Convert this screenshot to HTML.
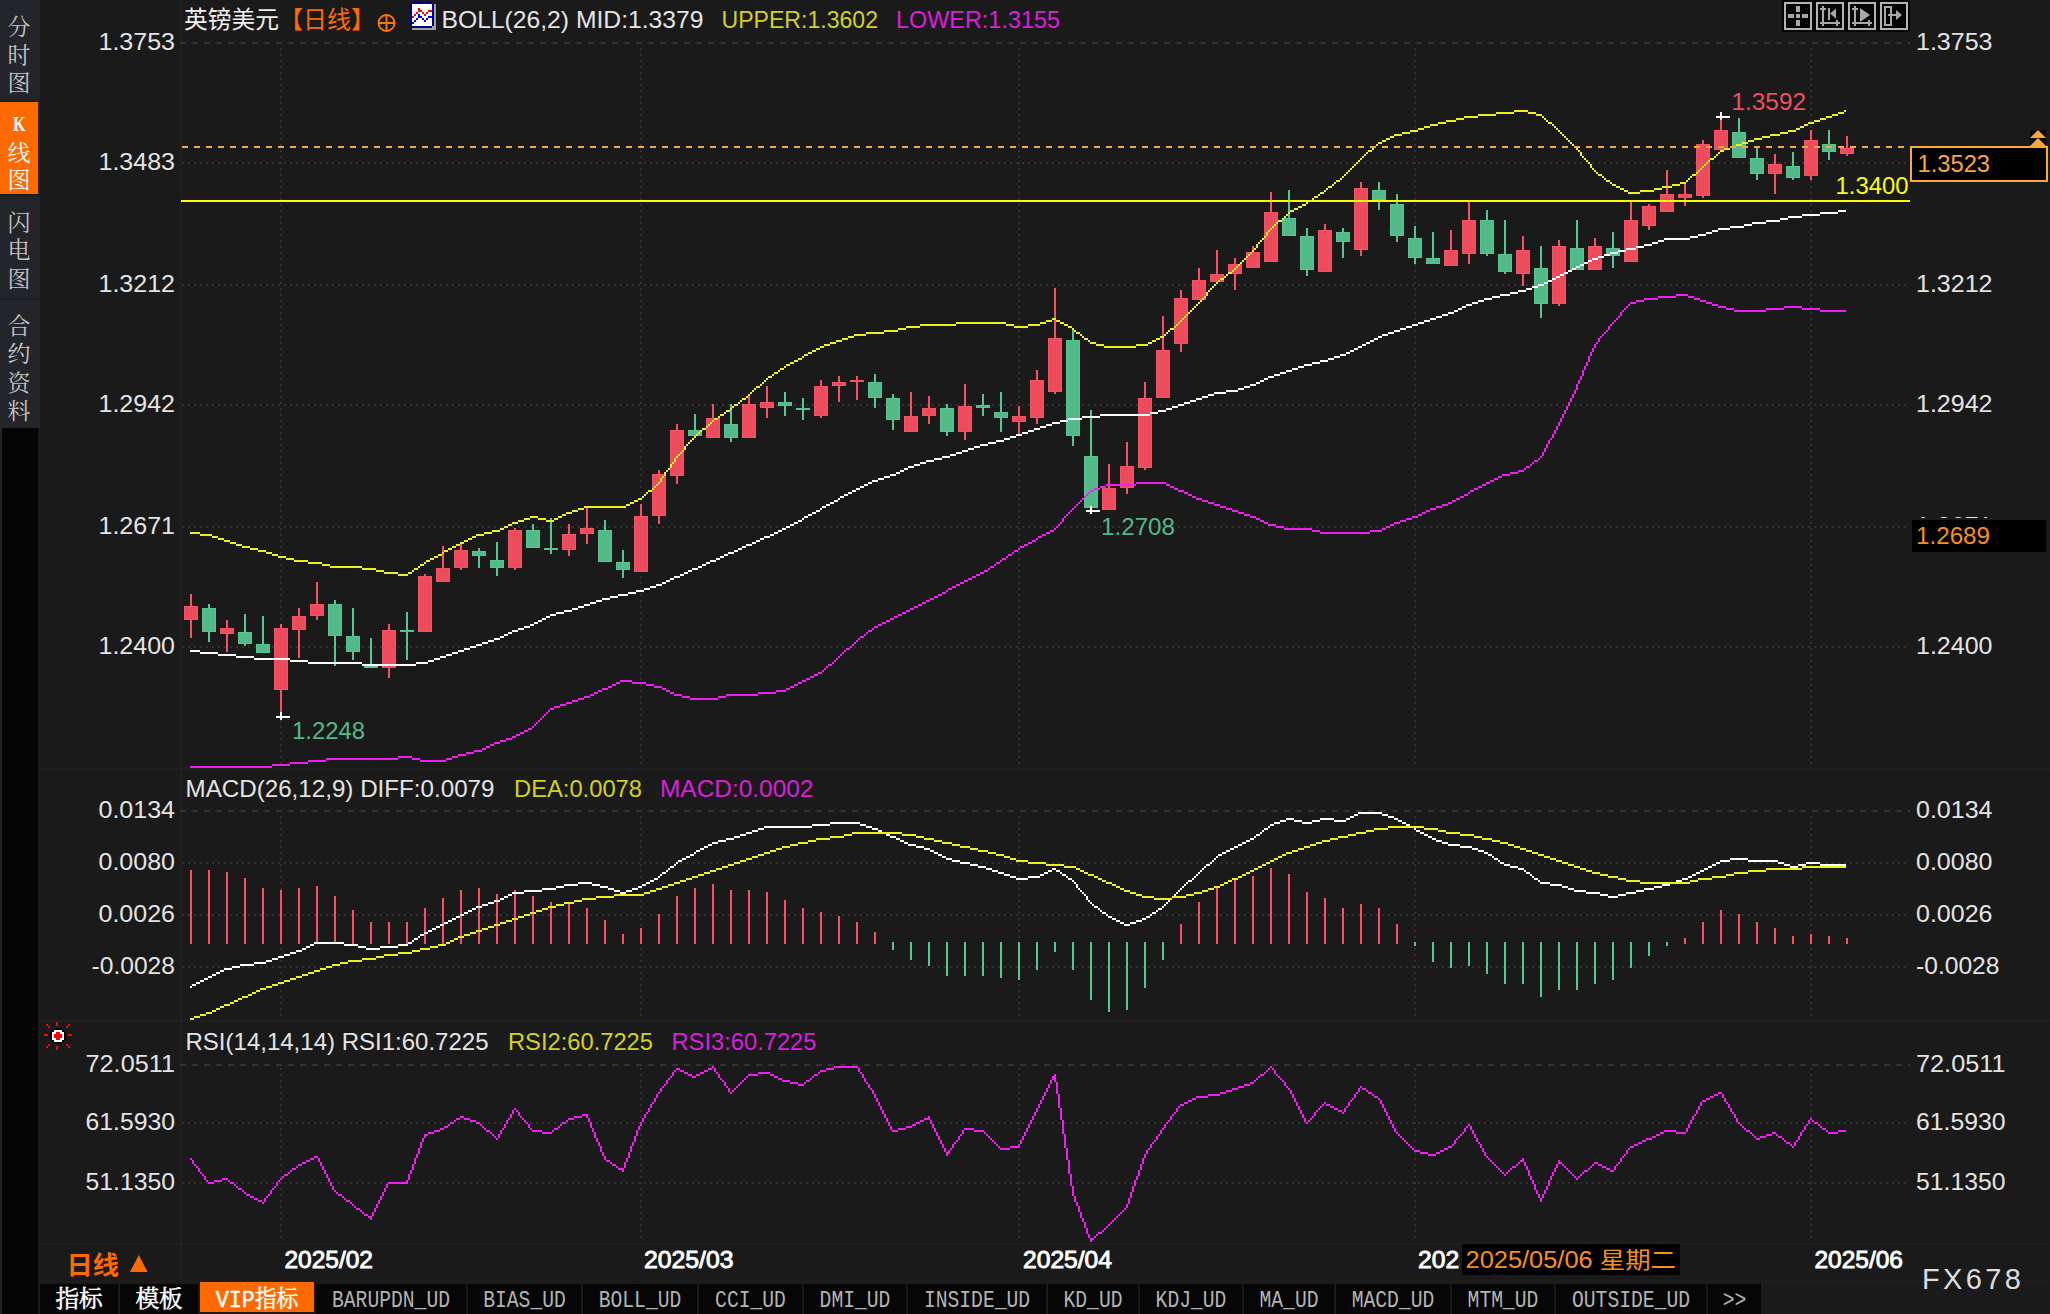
<!DOCTYPE html>
<html lang="zh"><head><meta charset="utf-8"><title>GBPUSD</title>
<style>html,body{margin:0;padding:0;background:#1a1a1a;overflow:hidden}svg{display:block}text{white-space:pre}</style></head>
<body><svg width="2050" height="1314" viewBox="0 0 2050 1314">
<rect x="0" y="0" width="2050" height="1314" fill="#1a1a1a"/>
<rect x="0" y="0" width="40" height="428" fill="#24252b"/>
<rect x="0" y="428" width="40" height="886" fill="#24252b"/>
<rect x="2" y="428" width="36" height="886" fill="#050505"/>
<rect x="38" y="428" width="2" height="886" fill="#1a1a1a"/>
<rect x="0" y="100" width="40" height="2" fill="#1c1d22"/>
<rect x="0" y="194" width="40" height="2" fill="#1c1d22"/>
<rect x="0" y="298" width="40" height="2" fill="#1c1d22"/>
<rect x="0" y="102" width="38" height="92" fill="#ff6a00"/>
<text x="19" y="35" font-size="23" fill="#c4c4c4" font-family='"Liberation Mono", "Noto Serif CJK SC", serif' text-anchor="middle">分</text>
<text x="19" y="63" font-size="23" fill="#c4c4c4" font-family='"Liberation Mono", "Noto Serif CJK SC", serif' text-anchor="middle">时</text>
<text x="19" y="91" font-size="23" fill="#c4c4c4" font-family='"Liberation Mono", "Noto Serif CJK SC", serif' text-anchor="middle">图</text>
<text x="19" y="161" font-size="23" fill="#ffffff" font-family='"Liberation Mono", "Noto Serif CJK SC", serif' text-anchor="middle">线</text>
<text x="19" y="188" font-size="23" fill="#ffffff" font-family='"Liberation Mono", "Noto Serif CJK SC", serif' text-anchor="middle">图</text>
<text x="13" y="131" font-size="22" fill="#ffffff" font-family='"Liberation Serif", serif' textLength="12.5" lengthAdjust="spacingAndGlyphs" font-weight="bold">K</text>
<text x="19" y="231" font-size="23" fill="#c4c4c4" font-family='"Liberation Mono", "Noto Serif CJK SC", serif' text-anchor="middle">闪</text>
<text x="19" y="258" font-size="23" fill="#c4c4c4" font-family='"Liberation Mono", "Noto Serif CJK SC", serif' text-anchor="middle">电</text>
<text x="19" y="287" font-size="23" fill="#c4c4c4" font-family='"Liberation Mono", "Noto Serif CJK SC", serif' text-anchor="middle">图</text>
<text x="19" y="334" font-size="23" fill="#c4c4c4" font-family='"Liberation Mono", "Noto Serif CJK SC", serif' text-anchor="middle">合</text>
<text x="19" y="362" font-size="23" fill="#c4c4c4" font-family='"Liberation Mono", "Noto Serif CJK SC", serif' text-anchor="middle">约</text>
<text x="19" y="391" font-size="23" fill="#c4c4c4" font-family='"Liberation Mono", "Noto Serif CJK SC", serif' text-anchor="middle">资</text>
<text x="19" y="419" font-size="23" fill="#c4c4c4" font-family='"Liberation Mono", "Noto Serif CJK SC", serif' text-anchor="middle">料</text>
<rect x="180" y="0" width="2" height="1282" fill="#1f1f1f"/>
<rect x="40" y="768" width="2010" height="2" fill="#1f1f1f"/>
<rect x="40" y="1020" width="2010" height="2" fill="#1f1f1f"/>
<rect x="40" y="1243" width="2010" height="2" fill="#1f1f1f"/>
<rect x="40" y="1281" width="2010" height="1" fill="#1f1f1f"/>
<g shape-rendering="crispEdges">
<line x1="180" y1="43" x2="1910" y2="43" stroke="#333333" stroke-width="2" stroke-dasharray="6 6"/>
<line x1="182" y1="163" x2="1910" y2="163" stroke="#303030" stroke-width="2" stroke-dasharray="2 4"/>
<line x1="182" y1="285" x2="1910" y2="285" stroke="#303030" stroke-width="2" stroke-dasharray="2 4"/>
<line x1="182" y1="405" x2="1910" y2="405" stroke="#303030" stroke-width="2" stroke-dasharray="2 4"/>
<line x1="182" y1="527" x2="1910" y2="527" stroke="#303030" stroke-width="2" stroke-dasharray="2 4"/>
<line x1="182" y1="647" x2="1910" y2="647" stroke="#303030" stroke-width="2" stroke-dasharray="2 4"/>
<line x1="180" y1="811" x2="1910" y2="811" stroke="#333333" stroke-width="2" stroke-dasharray="6 6"/>
<line x1="182" y1="863" x2="1910" y2="863" stroke="#303030" stroke-width="2" stroke-dasharray="2 4"/>
<line x1="182" y1="915" x2="1910" y2="915" stroke="#303030" stroke-width="2" stroke-dasharray="2 4"/>
<line x1="182" y1="967" x2="1910" y2="967" stroke="#303030" stroke-width="2" stroke-dasharray="2 4"/>
<line x1="180" y1="1065" x2="1910" y2="1065" stroke="#333333" stroke-width="2" stroke-dasharray="6 6"/>
<line x1="182" y1="1123" x2="1910" y2="1123" stroke="#303030" stroke-width="2" stroke-dasharray="2 4"/>
<line x1="182" y1="1183" x2="1910" y2="1183" stroke="#303030" stroke-width="2" stroke-dasharray="2 4"/>
<line x1="281" y1="48" x2="281" y2="764" stroke="#303030" stroke-width="2" stroke-dasharray="2 4"/>
<line x1="281" y1="816" x2="281" y2="1016" stroke="#303030" stroke-width="2" stroke-dasharray="2 4"/>
<line x1="281" y1="1068" x2="281" y2="1242" stroke="#303030" stroke-width="2" stroke-dasharray="2 4"/>
<line x1="641" y1="48" x2="641" y2="764" stroke="#303030" stroke-width="2" stroke-dasharray="2 4"/>
<line x1="641" y1="816" x2="641" y2="1016" stroke="#303030" stroke-width="2" stroke-dasharray="2 4"/>
<line x1="641" y1="1068" x2="641" y2="1242" stroke="#303030" stroke-width="2" stroke-dasharray="2 4"/>
<line x1="1019" y1="48" x2="1019" y2="764" stroke="#303030" stroke-width="2" stroke-dasharray="2 4"/>
<line x1="1019" y1="816" x2="1019" y2="1016" stroke="#303030" stroke-width="2" stroke-dasharray="2 4"/>
<line x1="1019" y1="1068" x2="1019" y2="1242" stroke="#303030" stroke-width="2" stroke-dasharray="2 4"/>
<line x1="1415" y1="48" x2="1415" y2="764" stroke="#303030" stroke-width="2" stroke-dasharray="2 4"/>
<line x1="1415" y1="816" x2="1415" y2="1016" stroke="#303030" stroke-width="2" stroke-dasharray="2 4"/>
<line x1="1415" y1="1068" x2="1415" y2="1242" stroke="#303030" stroke-width="2" stroke-dasharray="2 4"/>
<line x1="1811" y1="48" x2="1811" y2="764" stroke="#303030" stroke-width="2" stroke-dasharray="2 4"/>
<line x1="1811" y1="816" x2="1811" y2="1016" stroke="#303030" stroke-width="2" stroke-dasharray="2 4"/>
<line x1="1811" y1="1068" x2="1811" y2="1242" stroke="#303030" stroke-width="2" stroke-dasharray="2 4"/>
</g>
<text x="98.5" y="50" font-size="24" fill="#e4e4e4" font-family='"Liberation Sans", "Noto Sans CJK SC", sans-serif' textLength="76.5" lengthAdjust="spacingAndGlyphs">1.3753</text>
<text x="1916" y="50" font-size="24" fill="#e4e4e4" font-family='"Liberation Sans", "Noto Sans CJK SC", sans-serif' textLength="76.5" lengthAdjust="spacingAndGlyphs">1.3753</text>
<text x="98.5" y="170" font-size="24" fill="#e4e4e4" font-family='"Liberation Sans", "Noto Sans CJK SC", sans-serif' textLength="76.5" lengthAdjust="spacingAndGlyphs">1.3483</text>
<text x="1916" y="170" font-size="24" fill="#e4e4e4" font-family='"Liberation Sans", "Noto Sans CJK SC", sans-serif' textLength="76.5" lengthAdjust="spacingAndGlyphs">1.3483</text>
<text x="98.5" y="292" font-size="24" fill="#e4e4e4" font-family='"Liberation Sans", "Noto Sans CJK SC", sans-serif' textLength="76.5" lengthAdjust="spacingAndGlyphs">1.3212</text>
<text x="1916" y="292" font-size="24" fill="#e4e4e4" font-family='"Liberation Sans", "Noto Sans CJK SC", sans-serif' textLength="76.5" lengthAdjust="spacingAndGlyphs">1.3212</text>
<text x="98.5" y="412" font-size="24" fill="#e4e4e4" font-family='"Liberation Sans", "Noto Sans CJK SC", sans-serif' textLength="76.5" lengthAdjust="spacingAndGlyphs">1.2942</text>
<text x="1916" y="412" font-size="24" fill="#e4e4e4" font-family='"Liberation Sans", "Noto Sans CJK SC", sans-serif' textLength="76.5" lengthAdjust="spacingAndGlyphs">1.2942</text>
<text x="98.5" y="534" font-size="24" fill="#e4e4e4" font-family='"Liberation Sans", "Noto Sans CJK SC", sans-serif' textLength="76.5" lengthAdjust="spacingAndGlyphs">1.2671</text>
<text x="1916" y="534" font-size="24" fill="#e4e4e4" font-family='"Liberation Sans", "Noto Sans CJK SC", sans-serif' textLength="76.5" lengthAdjust="spacingAndGlyphs">1.2671</text>
<text x="98.5" y="654" font-size="24" fill="#e4e4e4" font-family='"Liberation Sans", "Noto Sans CJK SC", sans-serif' textLength="76.5" lengthAdjust="spacingAndGlyphs">1.2400</text>
<text x="1916" y="654" font-size="24" fill="#e4e4e4" font-family='"Liberation Sans", "Noto Sans CJK SC", sans-serif' textLength="76.5" lengthAdjust="spacingAndGlyphs">1.2400</text>
<text x="98.5" y="818" font-size="24" fill="#e4e4e4" font-family='"Liberation Sans", "Noto Sans CJK SC", sans-serif' textLength="76.5" lengthAdjust="spacingAndGlyphs">0.0134</text>
<text x="1916" y="818" font-size="24" fill="#e4e4e4" font-family='"Liberation Sans", "Noto Sans CJK SC", sans-serif' textLength="76.5" lengthAdjust="spacingAndGlyphs">0.0134</text>
<text x="98.5" y="870" font-size="24" fill="#e4e4e4" font-family='"Liberation Sans", "Noto Sans CJK SC", sans-serif' textLength="76.5" lengthAdjust="spacingAndGlyphs">0.0080</text>
<text x="1916" y="870" font-size="24" fill="#e4e4e4" font-family='"Liberation Sans", "Noto Sans CJK SC", sans-serif' textLength="76.5" lengthAdjust="spacingAndGlyphs">0.0080</text>
<text x="98.5" y="922" font-size="24" fill="#e4e4e4" font-family='"Liberation Sans", "Noto Sans CJK SC", sans-serif' textLength="76.5" lengthAdjust="spacingAndGlyphs">0.0026</text>
<text x="1916" y="922" font-size="24" fill="#e4e4e4" font-family='"Liberation Sans", "Noto Sans CJK SC", sans-serif' textLength="76.5" lengthAdjust="spacingAndGlyphs">0.0026</text>
<text x="91.5" y="974" font-size="24" fill="#e4e4e4" font-family='"Liberation Sans", "Noto Sans CJK SC", sans-serif' textLength="83.5" lengthAdjust="spacingAndGlyphs">-0.0028</text>
<text x="1916" y="974" font-size="24" fill="#e4e4e4" font-family='"Liberation Sans", "Noto Sans CJK SC", sans-serif' textLength="83.5" lengthAdjust="spacingAndGlyphs">-0.0028</text>
<text x="85.5" y="1072" font-size="24" fill="#e4e4e4" font-family='"Liberation Sans", "Noto Sans CJK SC", sans-serif' textLength="89.5" lengthAdjust="spacingAndGlyphs">72.0511</text>
<text x="1916" y="1072" font-size="24" fill="#e4e4e4" font-family='"Liberation Sans", "Noto Sans CJK SC", sans-serif' textLength="89.5" lengthAdjust="spacingAndGlyphs">72.0511</text>
<text x="85.5" y="1130" font-size="24" fill="#e4e4e4" font-family='"Liberation Sans", "Noto Sans CJK SC", sans-serif' textLength="89.5" lengthAdjust="spacingAndGlyphs">61.5930</text>
<text x="1916" y="1130" font-size="24" fill="#e4e4e4" font-family='"Liberation Sans", "Noto Sans CJK SC", sans-serif' textLength="89.5" lengthAdjust="spacingAndGlyphs">61.5930</text>
<text x="85.5" y="1190" font-size="24" fill="#e4e4e4" font-family='"Liberation Sans", "Noto Sans CJK SC", sans-serif' textLength="89.5" lengthAdjust="spacingAndGlyphs">51.1350</text>
<text x="1916" y="1190" font-size="24" fill="#e4e4e4" font-family='"Liberation Sans", "Noto Sans CJK SC", sans-serif' textLength="89.5" lengthAdjust="spacingAndGlyphs">51.1350</text>
<g shape-rendering="crispEdges">
<rect x="190" y="594" width="2" height="12" fill="#fa5064"/>
<rect x="190" y="620" width="2" height="18" fill="#fa5064"/>
<rect x="184" y="606" width="14" height="14" fill="#fa5064"/>
<rect x="185" y="607" width="12" height="12" fill="#ec4c5c"/>
<rect x="208" y="604" width="2" height="4" fill="#56c690"/>
<rect x="208" y="632" width="2" height="10" fill="#56c690"/>
<rect x="202" y="608" width="14" height="24" fill="#56c690"/>
<rect x="203" y="609" width="12" height="22" fill="#52b988"/>
<rect x="226" y="620" width="2" height="8" fill="#fa5064"/>
<rect x="226" y="634" width="2" height="18" fill="#fa5064"/>
<rect x="220" y="628" width="14" height="6" fill="#fa5064"/>
<rect x="221" y="629" width="12" height="4" fill="#ec4c5c"/>
<rect x="244" y="614" width="2" height="18" fill="#56c690"/>
<rect x="244" y="644" width="2" height="2" fill="#56c690"/>
<rect x="238" y="632" width="14" height="12" fill="#56c690"/>
<rect x="239" y="633" width="12" height="10" fill="#52b988"/>
<rect x="262" y="616" width="2" height="28" fill="#56c690"/>
<rect x="256" y="644" width="14" height="9" fill="#56c690"/>
<rect x="257" y="645" width="12" height="7" fill="#52b988"/>
<rect x="280" y="624" width="2" height="4" fill="#fa5064"/>
<rect x="280" y="690" width="2" height="27" fill="#fa5064"/>
<rect x="274" y="628" width="14" height="62" fill="#fa5064"/>
<rect x="275" y="629" width="12" height="60" fill="#ec4c5c"/>
<rect x="298" y="608" width="2" height="8" fill="#fa5064"/>
<rect x="298" y="630" width="2" height="28" fill="#fa5064"/>
<rect x="292" y="616" width="14" height="14" fill="#fa5064"/>
<rect x="293" y="617" width="12" height="12" fill="#ec4c5c"/>
<rect x="316" y="582" width="2" height="22" fill="#fa5064"/>
<rect x="316" y="616" width="2" height="4" fill="#fa5064"/>
<rect x="310" y="604" width="14" height="12" fill="#fa5064"/>
<rect x="311" y="605" width="12" height="10" fill="#ec4c5c"/>
<rect x="334" y="600" width="2" height="4" fill="#56c690"/>
<rect x="334" y="636" width="2" height="30" fill="#56c690"/>
<rect x="328" y="604" width="14" height="32" fill="#56c690"/>
<rect x="329" y="605" width="12" height="30" fill="#52b988"/>
<rect x="352" y="608" width="2" height="28" fill="#56c690"/>
<rect x="352" y="652" width="2" height="8" fill="#56c690"/>
<rect x="346" y="636" width="14" height="16" fill="#56c690"/>
<rect x="347" y="637" width="12" height="14" fill="#52b988"/>
<rect x="370" y="638" width="2" height="28" fill="#56c690"/>
<rect x="364" y="666" width="14" height="2" fill="#56c690"/>
<rect x="388" y="624" width="2" height="6" fill="#fa5064"/>
<rect x="388" y="668" width="2" height="10" fill="#fa5064"/>
<rect x="382" y="630" width="14" height="38" fill="#fa5064"/>
<rect x="383" y="631" width="12" height="36" fill="#ec4c5c"/>
<rect x="406" y="612" width="2" height="18" fill="#56c690"/>
<rect x="406" y="632" width="2" height="28" fill="#56c690"/>
<rect x="400" y="630" width="14" height="2" fill="#56c690"/>
<rect x="424" y="574" width="2" height="2" fill="#fa5064"/>
<rect x="418" y="576" width="14" height="56" fill="#fa5064"/>
<rect x="419" y="577" width="12" height="54" fill="#ec4c5c"/>
<rect x="442" y="546" width="2" height="22" fill="#fa5064"/>
<rect x="436" y="568" width="14" height="14" fill="#fa5064"/>
<rect x="437" y="569" width="12" height="12" fill="#ec4c5c"/>
<rect x="460" y="544" width="2" height="6" fill="#fa5064"/>
<rect x="460" y="568" width="2" height="2" fill="#fa5064"/>
<rect x="454" y="550" width="14" height="18" fill="#fa5064"/>
<rect x="455" y="551" width="12" height="16" fill="#ec4c5c"/>
<rect x="478" y="548" width="2" height="3" fill="#56c690"/>
<rect x="478" y="556" width="2" height="12" fill="#56c690"/>
<rect x="472" y="551" width="14" height="5" fill="#56c690"/>
<rect x="473" y="552" width="12" height="3" fill="#52b988"/>
<rect x="496" y="542" width="2" height="18" fill="#56c690"/>
<rect x="496" y="568" width="2" height="8" fill="#56c690"/>
<rect x="490" y="560" width="14" height="8" fill="#56c690"/>
<rect x="491" y="561" width="12" height="6" fill="#52b988"/>
<rect x="514" y="528" width="2" height="2" fill="#fa5064"/>
<rect x="514" y="568" width="2" height="2" fill="#fa5064"/>
<rect x="508" y="530" width="14" height="38" fill="#fa5064"/>
<rect x="509" y="531" width="12" height="36" fill="#ec4c5c"/>
<rect x="532" y="524" width="2" height="6" fill="#56c690"/>
<rect x="526" y="530" width="14" height="18" fill="#56c690"/>
<rect x="527" y="531" width="12" height="16" fill="#52b988"/>
<rect x="550" y="518" width="2" height="30" fill="#56c690"/>
<rect x="550" y="550" width="2" height="4" fill="#56c690"/>
<rect x="544" y="548" width="14" height="2" fill="#56c690"/>
<rect x="568" y="524" width="2" height="10" fill="#fa5064"/>
<rect x="568" y="550" width="2" height="6" fill="#fa5064"/>
<rect x="562" y="534" width="14" height="16" fill="#fa5064"/>
<rect x="563" y="535" width="12" height="14" fill="#ec4c5c"/>
<rect x="586" y="508" width="2" height="20" fill="#fa5064"/>
<rect x="586" y="534" width="2" height="10" fill="#fa5064"/>
<rect x="580" y="528" width="14" height="6" fill="#fa5064"/>
<rect x="581" y="529" width="12" height="4" fill="#ec4c5c"/>
<rect x="604" y="520" width="2" height="10" fill="#56c690"/>
<rect x="598" y="530" width="14" height="32" fill="#56c690"/>
<rect x="599" y="531" width="12" height="30" fill="#52b988"/>
<rect x="622" y="550" width="2" height="12" fill="#56c690"/>
<rect x="622" y="570" width="2" height="8" fill="#56c690"/>
<rect x="616" y="562" width="14" height="8" fill="#56c690"/>
<rect x="617" y="563" width="12" height="6" fill="#52b988"/>
<rect x="640" y="504" width="2" height="12" fill="#fa5064"/>
<rect x="634" y="516" width="14" height="56" fill="#fa5064"/>
<rect x="635" y="517" width="12" height="54" fill="#ec4c5c"/>
<rect x="658" y="470" width="2" height="4" fill="#fa5064"/>
<rect x="658" y="516" width="2" height="8" fill="#fa5064"/>
<rect x="652" y="474" width="14" height="42" fill="#fa5064"/>
<rect x="653" y="475" width="12" height="40" fill="#ec4c5c"/>
<rect x="676" y="424" width="2" height="6" fill="#fa5064"/>
<rect x="676" y="476" width="2" height="8" fill="#fa5064"/>
<rect x="670" y="430" width="14" height="46" fill="#fa5064"/>
<rect x="671" y="431" width="12" height="44" fill="#ec4c5c"/>
<rect x="694" y="414" width="2" height="16" fill="#56c690"/>
<rect x="688" y="430" width="14" height="6" fill="#56c690"/>
<rect x="689" y="431" width="12" height="4" fill="#52b988"/>
<rect x="712" y="404" width="2" height="14" fill="#fa5064"/>
<rect x="706" y="418" width="14" height="20" fill="#fa5064"/>
<rect x="707" y="419" width="12" height="18" fill="#ec4c5c"/>
<rect x="730" y="404" width="2" height="20" fill="#56c690"/>
<rect x="730" y="438" width="2" height="4" fill="#56c690"/>
<rect x="724" y="424" width="14" height="14" fill="#56c690"/>
<rect x="725" y="425" width="12" height="12" fill="#52b988"/>
<rect x="748" y="396" width="2" height="8" fill="#fa5064"/>
<rect x="742" y="404" width="14" height="34" fill="#fa5064"/>
<rect x="743" y="405" width="12" height="32" fill="#ec4c5c"/>
<rect x="766" y="386" width="2" height="16" fill="#fa5064"/>
<rect x="766" y="408" width="2" height="10" fill="#fa5064"/>
<rect x="760" y="402" width="14" height="6" fill="#fa5064"/>
<rect x="761" y="403" width="12" height="4" fill="#ec4c5c"/>
<rect x="784" y="392" width="2" height="10" fill="#56c690"/>
<rect x="784" y="406" width="2" height="10" fill="#56c690"/>
<rect x="778" y="402" width="14" height="4" fill="#56c690"/>
<rect x="779" y="403" width="12" height="2" fill="#52b988"/>
<rect x="802" y="398" width="2" height="10" fill="#56c690"/>
<rect x="802" y="410" width="2" height="10" fill="#56c690"/>
<rect x="796" y="408" width="14" height="2" fill="#56c690"/>
<rect x="820" y="380" width="2" height="6" fill="#fa5064"/>
<rect x="820" y="416" width="2" height="2" fill="#fa5064"/>
<rect x="814" y="386" width="14" height="30" fill="#fa5064"/>
<rect x="815" y="387" width="12" height="28" fill="#ec4c5c"/>
<rect x="838" y="376" width="2" height="6" fill="#fa5064"/>
<rect x="838" y="386" width="2" height="16" fill="#fa5064"/>
<rect x="832" y="382" width="14" height="4" fill="#fa5064"/>
<rect x="833" y="383" width="12" height="2" fill="#ec4c5c"/>
<rect x="856" y="376" width="2" height="4" fill="#fa5064"/>
<rect x="856" y="382" width="2" height="18" fill="#fa5064"/>
<rect x="850" y="380" width="14" height="2" fill="#fa5064"/>
<rect x="874" y="374" width="2" height="8" fill="#56c690"/>
<rect x="874" y="398" width="2" height="10" fill="#56c690"/>
<rect x="868" y="382" width="14" height="16" fill="#56c690"/>
<rect x="869" y="383" width="12" height="14" fill="#52b988"/>
<rect x="892" y="394" width="2" height="4" fill="#56c690"/>
<rect x="892" y="420" width="2" height="10" fill="#56c690"/>
<rect x="886" y="398" width="14" height="22" fill="#56c690"/>
<rect x="887" y="399" width="12" height="20" fill="#52b988"/>
<rect x="910" y="392" width="2" height="24" fill="#fa5064"/>
<rect x="904" y="416" width="14" height="16" fill="#fa5064"/>
<rect x="905" y="417" width="12" height="14" fill="#ec4c5c"/>
<rect x="928" y="396" width="2" height="12" fill="#fa5064"/>
<rect x="928" y="416" width="2" height="8" fill="#fa5064"/>
<rect x="922" y="408" width="14" height="8" fill="#fa5064"/>
<rect x="923" y="409" width="12" height="6" fill="#ec4c5c"/>
<rect x="946" y="404" width="2" height="4" fill="#56c690"/>
<rect x="946" y="432" width="2" height="4" fill="#56c690"/>
<rect x="940" y="408" width="14" height="24" fill="#56c690"/>
<rect x="941" y="409" width="12" height="22" fill="#52b988"/>
<rect x="964" y="384" width="2" height="22" fill="#fa5064"/>
<rect x="964" y="432" width="2" height="8" fill="#fa5064"/>
<rect x="958" y="406" width="14" height="26" fill="#fa5064"/>
<rect x="959" y="407" width="12" height="24" fill="#ec4c5c"/>
<rect x="982" y="394" width="2" height="11" fill="#56c690"/>
<rect x="982" y="408" width="2" height="8" fill="#56c690"/>
<rect x="976" y="405" width="14" height="3" fill="#56c690"/>
<rect x="977" y="406" width="12" height="1" fill="#52b988"/>
<rect x="1000" y="392" width="2" height="20" fill="#56c690"/>
<rect x="1000" y="418" width="2" height="14" fill="#56c690"/>
<rect x="994" y="412" width="14" height="6" fill="#56c690"/>
<rect x="995" y="413" width="12" height="4" fill="#52b988"/>
<rect x="1018" y="406" width="2" height="10" fill="#fa5064"/>
<rect x="1018" y="422" width="2" height="12" fill="#fa5064"/>
<rect x="1012" y="416" width="14" height="6" fill="#fa5064"/>
<rect x="1013" y="417" width="12" height="4" fill="#ec4c5c"/>
<rect x="1036" y="370" width="2" height="10" fill="#fa5064"/>
<rect x="1036" y="418" width="2" height="6" fill="#fa5064"/>
<rect x="1030" y="380" width="14" height="38" fill="#fa5064"/>
<rect x="1031" y="381" width="12" height="36" fill="#ec4c5c"/>
<rect x="1054" y="288" width="2" height="50" fill="#fa5064"/>
<rect x="1054" y="392" width="2" height="2" fill="#fa5064"/>
<rect x="1048" y="338" width="14" height="54" fill="#fa5064"/>
<rect x="1049" y="339" width="12" height="52" fill="#ec4c5c"/>
<rect x="1072" y="330" width="2" height="10" fill="#56c690"/>
<rect x="1072" y="436" width="2" height="10" fill="#56c690"/>
<rect x="1066" y="340" width="14" height="96" fill="#56c690"/>
<rect x="1067" y="341" width="12" height="94" fill="#52b988"/>
<rect x="1090" y="410" width="2" height="46" fill="#56c690"/>
<rect x="1090" y="508" width="2" height="4" fill="#56c690"/>
<rect x="1084" y="456" width="14" height="52" fill="#56c690"/>
<rect x="1085" y="457" width="12" height="50" fill="#52b988"/>
<rect x="1108" y="464" width="2" height="24" fill="#fa5064"/>
<rect x="1102" y="488" width="14" height="22" fill="#fa5064"/>
<rect x="1103" y="489" width="12" height="20" fill="#ec4c5c"/>
<rect x="1126" y="442" width="2" height="24" fill="#fa5064"/>
<rect x="1126" y="488" width="2" height="6" fill="#fa5064"/>
<rect x="1120" y="466" width="14" height="22" fill="#fa5064"/>
<rect x="1121" y="467" width="12" height="20" fill="#ec4c5c"/>
<rect x="1144" y="382" width="2" height="16" fill="#fa5064"/>
<rect x="1144" y="468" width="2" height="2" fill="#fa5064"/>
<rect x="1138" y="398" width="14" height="70" fill="#fa5064"/>
<rect x="1139" y="399" width="12" height="68" fill="#ec4c5c"/>
<rect x="1162" y="316" width="2" height="34" fill="#fa5064"/>
<rect x="1156" y="350" width="14" height="48" fill="#fa5064"/>
<rect x="1157" y="351" width="12" height="46" fill="#ec4c5c"/>
<rect x="1180" y="290" width="2" height="8" fill="#fa5064"/>
<rect x="1180" y="344" width="2" height="8" fill="#fa5064"/>
<rect x="1174" y="298" width="14" height="46" fill="#fa5064"/>
<rect x="1175" y="299" width="12" height="44" fill="#ec4c5c"/>
<rect x="1198" y="268" width="2" height="12" fill="#fa5064"/>
<rect x="1192" y="280" width="14" height="20" fill="#fa5064"/>
<rect x="1193" y="281" width="12" height="18" fill="#ec4c5c"/>
<rect x="1216" y="250" width="2" height="24" fill="#fa5064"/>
<rect x="1210" y="274" width="14" height="8" fill="#fa5064"/>
<rect x="1211" y="275" width="12" height="6" fill="#ec4c5c"/>
<rect x="1234" y="258" width="2" height="6" fill="#fa5064"/>
<rect x="1234" y="274" width="2" height="16" fill="#fa5064"/>
<rect x="1228" y="264" width="14" height="10" fill="#fa5064"/>
<rect x="1229" y="265" width="12" height="8" fill="#ec4c5c"/>
<rect x="1252" y="246" width="2" height="6" fill="#fa5064"/>
<rect x="1246" y="252" width="14" height="16" fill="#fa5064"/>
<rect x="1247" y="253" width="12" height="14" fill="#ec4c5c"/>
<rect x="1270" y="192" width="2" height="20" fill="#fa5064"/>
<rect x="1264" y="212" width="14" height="50" fill="#fa5064"/>
<rect x="1265" y="213" width="12" height="48" fill="#ec4c5c"/>
<rect x="1288" y="190" width="2" height="28" fill="#56c690"/>
<rect x="1282" y="218" width="14" height="18" fill="#56c690"/>
<rect x="1283" y="219" width="12" height="16" fill="#52b988"/>
<rect x="1306" y="228" width="2" height="8" fill="#56c690"/>
<rect x="1306" y="270" width="2" height="6" fill="#56c690"/>
<rect x="1300" y="236" width="14" height="34" fill="#56c690"/>
<rect x="1301" y="237" width="12" height="32" fill="#52b988"/>
<rect x="1324" y="224" width="2" height="6" fill="#fa5064"/>
<rect x="1318" y="230" width="14" height="42" fill="#fa5064"/>
<rect x="1319" y="231" width="12" height="40" fill="#ec4c5c"/>
<rect x="1342" y="228" width="2" height="4" fill="#56c690"/>
<rect x="1342" y="242" width="2" height="16" fill="#56c690"/>
<rect x="1336" y="232" width="14" height="10" fill="#56c690"/>
<rect x="1337" y="233" width="12" height="8" fill="#52b988"/>
<rect x="1360" y="182" width="2" height="6" fill="#fa5064"/>
<rect x="1360" y="250" width="2" height="6" fill="#fa5064"/>
<rect x="1354" y="188" width="14" height="62" fill="#fa5064"/>
<rect x="1355" y="189" width="12" height="60" fill="#ec4c5c"/>
<rect x="1378" y="182" width="2" height="8" fill="#56c690"/>
<rect x="1378" y="200" width="2" height="10" fill="#56c690"/>
<rect x="1372" y="190" width="14" height="10" fill="#56c690"/>
<rect x="1373" y="191" width="12" height="8" fill="#52b988"/>
<rect x="1396" y="194" width="2" height="10" fill="#56c690"/>
<rect x="1396" y="236" width="2" height="6" fill="#56c690"/>
<rect x="1390" y="204" width="14" height="32" fill="#56c690"/>
<rect x="1391" y="205" width="12" height="30" fill="#52b988"/>
<rect x="1414" y="226" width="2" height="12" fill="#56c690"/>
<rect x="1414" y="258" width="2" height="6" fill="#56c690"/>
<rect x="1408" y="238" width="14" height="20" fill="#56c690"/>
<rect x="1409" y="239" width="12" height="18" fill="#52b988"/>
<rect x="1432" y="232" width="2" height="26" fill="#56c690"/>
<rect x="1426" y="258" width="14" height="6" fill="#56c690"/>
<rect x="1427" y="259" width="12" height="4" fill="#52b988"/>
<rect x="1450" y="230" width="2" height="20" fill="#fa5064"/>
<rect x="1444" y="250" width="14" height="16" fill="#fa5064"/>
<rect x="1445" y="251" width="12" height="14" fill="#ec4c5c"/>
<rect x="1468" y="202" width="2" height="18" fill="#fa5064"/>
<rect x="1468" y="254" width="2" height="10" fill="#fa5064"/>
<rect x="1462" y="220" width="14" height="34" fill="#fa5064"/>
<rect x="1463" y="221" width="12" height="32" fill="#ec4c5c"/>
<rect x="1486" y="210" width="2" height="10" fill="#56c690"/>
<rect x="1486" y="254" width="2" height="2" fill="#56c690"/>
<rect x="1480" y="220" width="14" height="34" fill="#56c690"/>
<rect x="1481" y="221" width="12" height="32" fill="#52b988"/>
<rect x="1504" y="220" width="2" height="34" fill="#56c690"/>
<rect x="1504" y="272" width="2" height="2" fill="#56c690"/>
<rect x="1498" y="254" width="14" height="18" fill="#56c690"/>
<rect x="1499" y="255" width="12" height="16" fill="#52b988"/>
<rect x="1522" y="236" width="2" height="14" fill="#fa5064"/>
<rect x="1522" y="274" width="2" height="12" fill="#fa5064"/>
<rect x="1516" y="250" width="14" height="24" fill="#fa5064"/>
<rect x="1517" y="251" width="12" height="22" fill="#ec4c5c"/>
<rect x="1540" y="246" width="2" height="22" fill="#56c690"/>
<rect x="1540" y="304" width="2" height="14" fill="#56c690"/>
<rect x="1534" y="268" width="14" height="36" fill="#56c690"/>
<rect x="1535" y="269" width="12" height="34" fill="#52b988"/>
<rect x="1558" y="240" width="2" height="6" fill="#fa5064"/>
<rect x="1558" y="304" width="2" height="2" fill="#fa5064"/>
<rect x="1552" y="246" width="14" height="58" fill="#fa5064"/>
<rect x="1553" y="247" width="12" height="56" fill="#ec4c5c"/>
<rect x="1576" y="220" width="2" height="28" fill="#56c690"/>
<rect x="1570" y="248" width="14" height="22" fill="#56c690"/>
<rect x="1571" y="249" width="12" height="20" fill="#52b988"/>
<rect x="1594" y="238" width="2" height="8" fill="#fa5064"/>
<rect x="1588" y="246" width="14" height="24" fill="#fa5064"/>
<rect x="1589" y="247" width="12" height="22" fill="#ec4c5c"/>
<rect x="1612" y="232" width="2" height="16" fill="#56c690"/>
<rect x="1612" y="256" width="2" height="12" fill="#56c690"/>
<rect x="1606" y="248" width="14" height="8" fill="#56c690"/>
<rect x="1607" y="249" width="12" height="6" fill="#52b988"/>
<rect x="1630" y="202" width="2" height="18" fill="#fa5064"/>
<rect x="1624" y="220" width="14" height="42" fill="#fa5064"/>
<rect x="1625" y="221" width="12" height="40" fill="#ec4c5c"/>
<rect x="1648" y="204" width="2" height="2" fill="#fa5064"/>
<rect x="1648" y="226" width="2" height="4" fill="#fa5064"/>
<rect x="1642" y="206" width="14" height="20" fill="#fa5064"/>
<rect x="1643" y="207" width="12" height="18" fill="#ec4c5c"/>
<rect x="1666" y="170" width="2" height="24" fill="#fa5064"/>
<rect x="1660" y="194" width="14" height="18" fill="#fa5064"/>
<rect x="1661" y="195" width="12" height="16" fill="#ec4c5c"/>
<rect x="1684" y="184" width="2" height="10" fill="#fa5064"/>
<rect x="1684" y="198" width="2" height="8" fill="#fa5064"/>
<rect x="1678" y="194" width="14" height="4" fill="#fa5064"/>
<rect x="1679" y="195" width="12" height="2" fill="#ec4c5c"/>
<rect x="1702" y="140" width="2" height="4" fill="#fa5064"/>
<rect x="1702" y="196" width="2" height="2" fill="#fa5064"/>
<rect x="1696" y="144" width="14" height="52" fill="#fa5064"/>
<rect x="1697" y="145" width="12" height="50" fill="#ec4c5c"/>
<rect x="1720" y="117" width="2" height="13" fill="#fa5064"/>
<rect x="1714" y="130" width="14" height="20" fill="#fa5064"/>
<rect x="1715" y="131" width="12" height="18" fill="#ec4c5c"/>
<rect x="1738" y="118" width="2" height="14" fill="#56c690"/>
<rect x="1732" y="132" width="14" height="26" fill="#56c690"/>
<rect x="1733" y="133" width="12" height="24" fill="#52b988"/>
<rect x="1756" y="148" width="2" height="10" fill="#56c690"/>
<rect x="1756" y="174" width="2" height="6" fill="#56c690"/>
<rect x="1750" y="158" width="14" height="16" fill="#56c690"/>
<rect x="1751" y="159" width="12" height="14" fill="#52b988"/>
<rect x="1774" y="154" width="2" height="10" fill="#fa5064"/>
<rect x="1774" y="174" width="2" height="20" fill="#fa5064"/>
<rect x="1768" y="164" width="14" height="10" fill="#fa5064"/>
<rect x="1769" y="165" width="12" height="8" fill="#ec4c5c"/>
<rect x="1792" y="152" width="2" height="14" fill="#56c690"/>
<rect x="1792" y="178" width="2" height="2" fill="#56c690"/>
<rect x="1786" y="166" width="14" height="12" fill="#56c690"/>
<rect x="1787" y="167" width="12" height="10" fill="#52b988"/>
<rect x="1810" y="130" width="2" height="10" fill="#fa5064"/>
<rect x="1810" y="176" width="2" height="4" fill="#fa5064"/>
<rect x="1804" y="140" width="14" height="36" fill="#fa5064"/>
<rect x="1805" y="141" width="12" height="34" fill="#ec4c5c"/>
<rect x="1828" y="130" width="2" height="14" fill="#56c690"/>
<rect x="1828" y="152" width="2" height="8" fill="#56c690"/>
<rect x="1822" y="144" width="14" height="8" fill="#56c690"/>
<rect x="1823" y="145" width="12" height="6" fill="#52b988"/>
<rect x="1846" y="136" width="2" height="12" fill="#fa5064"/>
<rect x="1846" y="154" width="2" height="2" fill="#fa5064"/>
<rect x="1840" y="148" width="14" height="6" fill="#fa5064"/>
<rect x="1841" y="149" width="12" height="4" fill="#ec4c5c"/>
<rect x="181" y="200" width="1729" height="2" fill="#ffff00"/>
<path d="M1724 149h6M1464 117h14M1826 117h6M1394 135h8M1770 135h10M584 507h42M842 339h6M1084 339h4M1156 339h4M1478 115h18M1536 115h6M1832 115h6M1624 191h4M1640 191h14M250 549h8M448 549h4M920 325h36M1006 325h8M1028 325h12M1064 325h4M1620 189h4M1654 189h8M1336 181h4M1606 181h4M376 571h8M398 575h10M572 511h6M308 563h14M508 525h4M794 361h4M956 323h50M1040 323h6M1060 323h4M854 335h12M294 561h14M426 561h4M726 411h4M286 559h8M430 559h4M524 519h6M538 519h8M554 519h4M1496 113h18M1528 113h8M1838 113h6M500 529h4M1410 131h8M1788 131h8M756 387h4M518 521h6M546 521h8M200 535h12M476 535h8M330 567h32M820 347h4M1104 347h32M236 545h6M456 545h4M1710 159h4M1456 119h8M1820 119h6M272 555h6M438 555h4M362 569h14M414 569h4M1052 319h4M1320 193h4M1628 193h12M866 333h18M1076 333h4M1220 279h4M906 327h14M1014 327h14M1068 327h4M1612 185h4M1672 185h8M830 343h6M1090 343h6M1148 343h4M1402 133h8M1780 133h8M1390 137h4M1762 137h8M530 517h8M558 517h4M1514 111h14M884 331h14M626 505h4M1598 175h4M1692 175h4M786 365h4M1314 197h4M1378 143h4M1742 143h6M384 573h14M408 573h4M1368 151h4M1720 151h4M1430 125h8M1804 125h4M898 329h8M1170 329h4M714 419h4M1438 123h8M1548 123h4M1808 123h6M1328 187h4M1616 187h4M1662 187h10M824 345h6M1096 345h8M1136 345h12M1386 139h4M1754 139h8M1228 273h4M218 539h6M468 539h4M634 501h4M278 557h8M434 557h4M1298 207h4M836 341h6M1152 341h4M566 513h6M1730 147h6M266 553h6M212 537h6M472 537h4M492 531h8M816 349h4M578 509h6M512 523h6M224 541h6M464 541h4M798 359h4M230 543h6M460 543h4M504 527h4M1446 121h10M1814 121h6M258 551h8M444 551h4M702 429h4M848 337h6M1160 337h4M1046 321h6M1056 321h4M1294 209h4M190 533h10M484 533h8M790 363h4M774 373h4M242 547h8M452 547h4M1382 141h4M1748 141h6M322 565h8M420 565h4M1302 205h4M648 491h4M1680 183h6M562 515h4M1736 145h6M768 377h4M1424 127h6M1800 127h4M812 351h4M734 405h4M742 399h4M804 355h4M720 415h4M1418 129h6M1796 129h4M780 369h4M1308 201h4M1290 211h4M638 499h4M808 353h4M630 503h4M1278 221h4M1573 144v2M1563 134v2M1699 170v2M1701 168v2M1263 238v2M1267 232v4M683 450v2M1565 136v2M1555 126v2M1341 178v2M1575 146v2M761 384v2M675 458v4M679 454v2M803 356v2M681 452v2M1687 180v2M425 562v2M1587 160v2M671 464v4M1589 162v2M1367 152v2M1377 144v2M1577 148v2M1569 140v2M1207 292v4M695 436v2M1375 146v2M413 570v2M1581 152v4M1571 142v2M725 412v2M1089 340v2M1361 158v2M1271 228v2M1603 176v2M1243 260v2M1245 258v2M1185 316v2M1343 176v2M1357 162v2M1359 160v2M1239 264v2M1241 262v2M1689 178v2M1181 320v2M1219 280v2M687 444v2M647 492v2M659 482v2M663 476v2M1605 178v2M1313 198v2M1591 164v4M1215 284v2M1697 172v2M1289 212v2M1217 282v2M1543 116v2M1227 274v2M1073 328v2M779 370v2M655 486v2M1709 160v2M677 456v2M785 366v2M1545 118v2M1579 150v2M1075 330v2M1363 156v2M755 388v2M765 380v2M767 378v2M733 406v2M1187 314v2M443 552v2M1547 120v2M1265 236v2M1203 298v2M763 382v2M731 408v2M1183 318v2M741 400v2M1257 244v4M713 420v2M1199 302v2M661 478v4M665 472v4M739 402v2M685 446v4M701 430v2M657 484v2M1355 164v2M1225 276v2M1235 268v2M1167 332v2M1237 266v2M1169 330v2M1179 322v2M1277 222v2M697 434v2M1351 168v2M1319 194v2M1593 168v2M643 496v2M1707 162v2M645 494v2M1717 154v2M1233 270v2M1165 334v2M1719 152v2M1175 326v2M1273 226v2M1275 224v2M1211 288v2M1285 216v2M1213 286v2M1347 172v2M1349 170v2M1595 170v2M1327 188v2M1583 156v2M1715 156v2M653 488v2M1205 296v2M1209 290v2M1845 110v2M1283 218v2M1553 124v2M1335 182v2M1307 202v2M1201 300v2M1691 176v2M1269 230v2M419 566v2M1597 172v2M773 374v2M751 392v2M1197 304v2M753 390v2M1557 128v2M1261 240v2M1611 182v2M747 396v2M749 394v2M669 468v2M673 462v2M699 432v2M709 424v2M1255 248v2M1253 250v2M1259 242v2M1567 138v2M1353 166v2M1195 306v2M711 422v2M1177 324v2M1559 130v2M1251 252v2M1249 254v2M667 470v2M1193 308v2M707 426v2M1191 310v2M1287 214v2M719 416v2M1365 154v2M1081 334v2M1561 132v2M1247 256v2M1189 312v2M693 438v2M1325 190v2M1373 148v2M1083 336v2M1703 166v2M1705 164v2M689 442v2M691 440v2M1333 184v2M1585 158v2M1345 174v2" fill="none" stroke="#f0f01e" stroke-width="2"/>
<path d="M1292 369h6M362 665h54M1100 415h50M530 625h4M782 529h4M1378 337h4M308 663h54M416 663h12M872 481h6M1820 213h18M644 589h6M706 563h4M1718 229h12M200 653h18M452 653h6M556 613h8M1484 299h8M1068 419h14M1664 239h26M1370 341h4M1034 429h6M1644 245h8M1788 217h14M218 655h18M446 655h6M988 443h8M1226 391h12M1328 359h6M1178 405h6M1752 223h14M734 551h4M1388 333h6M804 517h4M656 585h6M1448 313h6M1548 281h4M1766 221h14M572 609h6M1698 235h8M1190 401h6M1466 305h6M1046 425h6M1340 355h6M1004 439h6M728 553h6M856 489h4M1202 397h6M1082 417h18M1304 365h8M1412 325h6M1238 389h6M476 645h6M1802 215h18M756 541h4M550 615h6M1478 301h6M680 575h4M254 659h36M434 659h6M1060 421h8M1780 219h8M698 567h4M980 445h8M1424 321h6M290 661h18M428 661h6M786 527h4M1362 345h4M488 641h6M596 601h6M878 479h6M942 457h8M1264 379h4M778 531h4M1610 253h8M1436 317h6M1538 285h6M890 475h6M1500 295h10M1730 227h14M610 597h8M1658 241h6M720 557h4M848 493h4M956 453h6M1400 329h6M908 467h6M920 463h6M236 657h18M440 657h6M512 631h6M1560 275h4M746 545h6M618 595h10M190 651h10M458 651h6M840 497h4M1690 237h8M1518 291h8M542 619h4M670 579h4M1580 265h4M1158 411h8M1016 435h6M968 449h6M1744 225h8M934 459h8M1354 349h4M534 623h4M470 647h6M1256 383h4M710 561h6M1532 287h6M1636 247h8M1706 233h6M1214 393h12M770 535h4M1346 353h4M1172 407h6M1492 297h8M1598 257h6M1028 431h6M1320 361h8M1286 371h6M1394 331h6M650 587h6M482 643h6M564 611h8M1274 375h6M1040 427h6M1552 279h4M504 635h4M1382 335h6M996 441h8M834 501h4M816 511h4M1406 327h6M662 583h4M578 607h6M1462 307h4M1052 423h8M524 627h6M1626 249h10M1208 395h6M1592 259h6M1244 387h6M1418 323h6M702 565h4M1510 293h8M1366 343h4M494 639h6M1472 303h6M602 599h8M1150 413h8M636 591h8M1268 377h6M1430 319h6M1604 255h6M546 617h4M1544 283h4M1652 243h6M1184 403h6M1312 363h8M826 505h4M724 555h4M808 515h4M1454 311h4M1010 437h6M1196 399h6M962 451h6M1838 211h8M1584 263h4M926 461h8M692 569h6M864 485h4M628 593h8M464 649h6M1358 347h4M590 603h6M1576 267h4M674 577h6M684 573h4M1260 381h4M1022 433h6M774 533h4M538 621h4M884 477h6M1526 289h6M1712 231h6M716 559h4M1166 409h6M508 633h4M1442 315h6M1618 251h8M830 503h4M812 513h4M666 581h4M500 637h4M1280 373h6M1458 309h4M584 605h6M518 629h6M1350 351h4M738 549h4M1568 271h4M1250 385h6M974 447h6M764 537h6M688 571h4M1588 261h4M822 507h4M900 471h4M1334 357h6M868 483h4M1572 269h4M860 487h4M798 521h4M1374 339h4M790 525h4M950 455h6M904 469h4M1564 273h4M742 547h4M760 539h4M852 491h4M1298 367h6M896 473h4M1556 277h4M844 495h4M914 465h6M794 523h4M752 543h4M839 498v2M803 518v2M821 508v2" fill="none" stroke="#ffffff" stroke-width="2"/>
<path d="M616 683h4M632 683h14M798 683h4M1284 529h28M1382 529h4M584 697h6M682 697h8M718 697h8M1712 305h6M1226 509h6M1430 509h6M486 747h4M326 759h72M412 759h8M446 759h6M620 681h12M802 681h4M1046 533h4M1320 533h50M1100 487h6M1170 487h4M1478 487h4M1232 511h6M1426 511h4M1106 485h30M1166 485h4M1482 485h4M190 767h82M886 621h4M1050 531h4M1312 531h8M1370 531h12M1256 519h4M1406 519h6M1644 299h14M1694 299h6M1238 513h6M1422 513h4M906 611h4M1276 527h8M1386 527h4M1220 507h6M1436 507h6M1718 307h8M1784 307h18M524 731h4M1038 537h4M1734 311h32M1820 311h26M458 755h8M1658 297h18M1688 297h6M398 757h14M452 757h6M590 695h4M674 695h8M726 695h32M1502 475h8M952 587h4M1726 309h8M1766 309h18M1802 309h18M494 743h6M578 699h6M690 699h28M1244 515h6M1418 515h4M878 625h4M1208 503h6M1448 503h4M1136 483h30M1486 483h4M474 751h8M1264 523h4M1394 523h6M308 761h18M420 761h26M272 765h18M1260 521h4M1400 521h6M1526 467h4M1676 295h12M598 691h4M666 691h4M776 691h10M554 707h6M1494 479h4M898 615h4M516 735h4M1032 541h4M608 687h4M654 687h8M790 687h4M814 675h4M1268 525h8M1390 525h4M290 763h18M1188 495h4M1464 495h4M566 703h6M938 595h4M1094 489h6M1174 489h4M1474 489h4M1534 461h4M1518 471h6M1636 301h8M1700 301h6M990 567h4M594 693h4M670 693h4M758 693h18M1192 497h4M1460 497h4M1014 551h4M1250 517h6M1412 517h6M890 619h4M984 571h4M1024 545h4M500 741h6M1008 555h4M1196 499h6M1456 499h4M1090 491h4M1178 491h6M1470 491h4M882 623h4M1184 493h4M520 733h4M612 685h4M646 685h8M794 685h4M818 673h4M466 753h8M930 599h4M1510 473h8M1214 505h6M1442 505h6M1630 303h6M1706 303h6M922 603h4M1202 501h6M1452 501h4M976 575h4M490 745h4M1042 535h4M560 705h6M512 737h4M602 689h6M662 689h4M786 689h4M810 677h4M942 593h4M968 579h4M482 749h4M996 563h4M550 709h4M980 573h4M1028 543h4M506 739h6M934 597h4M972 577h4M1020 547h4M926 601h4M806 679h4M918 605h4M528 729h4M964 581h4M956 585h4M846 649h4M1498 477h4M910 609h4M948 589h4M572 701h6M874 627h4M860 637h4M1490 481h4M902 613h4M914 607h4M868 631h4M960 583h4M828 665h4M894 617h4M1002 559h4M1579 380v4M837 658v2M1007 556v2M1583 370v6M1531 464v2M1553 434v4M1565 410v4M543 716v2M545 714v2M1037 538v2M1013 552v2M541 718v2M1547 444v4M1061 522v2M1065 516v2M1561 418v4M1577 384v6M1585 366v4M537 722v2M1057 526v2M1545 448v4M1549 440v4M1571 398v4M1575 390v4M535 724v2M1595 344v4M1599 338v4M1533 462v2M1543 452v4M1557 426v4M1573 394v4M1593 348v4M1581 376v4M1541 456v2M947 590v2M1629 304v2M1069 512v2M1071 510v2M859 638v2M1621 312v4M1625 308v2M1569 402v4M1063 518v4M1067 514v2M1589 356v6M855 642v2M857 640v2M867 632v2M1617 318v2M1619 316v2M1059 524v2M1567 406v4M845 650v2M1591 352v4M995 564v2M1609 326v4M1615 320v2M1055 528v2M841 654v2M843 652v2M1607 330v2M839 656v2M1563 414v4M533 726v2M1587 362v4M549 710v2M1605 332v2M1087 494v2M1597 342v2M1627 306v2M1601 336v2M1083 498v2M1085 496v2M1555 430v4M1559 422v4M1623 310v2M1539 458v2M1081 500v2M865 634v2M1469 492v2M1079 502v2M873 628v2M851 646v2M853 644v2M1019 548v2M1613 322v2M1001 560v2M1551 438v2M1075 506v2M1611 324v2M827 666v2M547 712v2M1603 334v2M823 670v2M825 668v2M835 660v2M989 568v2M833 662v2M539 720v2M1077 504v2M1525 468v2M1073 508v2M1089 492v2" fill="none" stroke="#f01ef0" stroke-width="2"/>
<line x1="182" y1="147" x2="1910" y2="147" stroke="#faa838" stroke-width="2" stroke-dasharray="6 6"/>
<rect x="190" y="870" width="2" height="74" fill="#fa5064"/>
<rect x="208" y="870" width="2" height="74" fill="#fa5064"/>
<rect x="226" y="872" width="2" height="72" fill="#fa5064"/>
<rect x="244" y="878" width="2" height="66" fill="#fa5064"/>
<rect x="262" y="888" width="2" height="56" fill="#fa5064"/>
<rect x="280" y="890" width="2" height="54" fill="#fa5064"/>
<rect x="298" y="888" width="2" height="56" fill="#fa5064"/>
<rect x="316" y="886" width="2" height="58" fill="#fa5064"/>
<rect x="334" y="896" width="2" height="48" fill="#fa5064"/>
<rect x="352" y="910" width="2" height="34" fill="#fa5064"/>
<rect x="370" y="922" width="2" height="22" fill="#fa5064"/>
<rect x="388" y="922" width="2" height="22" fill="#fa5064"/>
<rect x="406" y="922" width="2" height="22" fill="#fa5064"/>
<rect x="424" y="908" width="2" height="36" fill="#fa5064"/>
<rect x="442" y="898" width="2" height="46" fill="#fa5064"/>
<rect x="460" y="890" width="2" height="54" fill="#fa5064"/>
<rect x="478" y="888" width="2" height="56" fill="#fa5064"/>
<rect x="496" y="894" width="2" height="50" fill="#fa5064"/>
<rect x="514" y="890" width="2" height="54" fill="#fa5064"/>
<rect x="532" y="896" width="2" height="48" fill="#fa5064"/>
<rect x="550" y="902" width="2" height="42" fill="#fa5064"/>
<rect x="568" y="904" width="2" height="40" fill="#fa5064"/>
<rect x="586" y="908" width="2" height="36" fill="#fa5064"/>
<rect x="604" y="920" width="2" height="24" fill="#fa5064"/>
<rect x="622" y="934" width="2" height="10" fill="#fa5064"/>
<rect x="640" y="928" width="2" height="16" fill="#fa5064"/>
<rect x="658" y="914" width="2" height="30" fill="#fa5064"/>
<rect x="676" y="896" width="2" height="48" fill="#fa5064"/>
<rect x="694" y="888" width="2" height="56" fill="#fa5064"/>
<rect x="712" y="884" width="2" height="60" fill="#fa5064"/>
<rect x="730" y="890" width="2" height="54" fill="#fa5064"/>
<rect x="748" y="890" width="2" height="54" fill="#fa5064"/>
<rect x="766" y="892" width="2" height="52" fill="#fa5064"/>
<rect x="784" y="900" width="2" height="44" fill="#fa5064"/>
<rect x="802" y="908" width="2" height="36" fill="#fa5064"/>
<rect x="820" y="912" width="2" height="32" fill="#fa5064"/>
<rect x="838" y="916" width="2" height="28" fill="#fa5064"/>
<rect x="856" y="922" width="2" height="22" fill="#fa5064"/>
<rect x="874" y="932" width="2" height="12" fill="#fa5064"/>
<rect x="892" y="942" width="2" height="8" fill="#56c690"/>
<rect x="910" y="942" width="2" height="18" fill="#56c690"/>
<rect x="928" y="942" width="2" height="24" fill="#56c690"/>
<rect x="946" y="942" width="2" height="34" fill="#56c690"/>
<rect x="964" y="942" width="2" height="34" fill="#56c690"/>
<rect x="982" y="942" width="2" height="34" fill="#56c690"/>
<rect x="1000" y="942" width="2" height="36" fill="#56c690"/>
<rect x="1018" y="942" width="2" height="38" fill="#56c690"/>
<rect x="1036" y="942" width="2" height="28" fill="#56c690"/>
<rect x="1054" y="942" width="2" height="10" fill="#56c690"/>
<rect x="1072" y="942" width="2" height="28" fill="#56c690"/>
<rect x="1090" y="942" width="2" height="58" fill="#56c690"/>
<rect x="1108" y="942" width="2" height="70" fill="#56c690"/>
<rect x="1126" y="942" width="2" height="68" fill="#56c690"/>
<rect x="1144" y="942" width="2" height="46" fill="#56c690"/>
<rect x="1162" y="942" width="2" height="18" fill="#56c690"/>
<rect x="1180" y="924" width="2" height="20" fill="#fa5064"/>
<rect x="1198" y="902" width="2" height="42" fill="#fa5064"/>
<rect x="1216" y="888" width="2" height="56" fill="#fa5064"/>
<rect x="1234" y="880" width="2" height="64" fill="#fa5064"/>
<rect x="1252" y="876" width="2" height="68" fill="#fa5064"/>
<rect x="1270" y="868" width="2" height="76" fill="#fa5064"/>
<rect x="1288" y="874" width="2" height="70" fill="#fa5064"/>
<rect x="1306" y="892" width="2" height="52" fill="#fa5064"/>
<rect x="1324" y="898" width="2" height="46" fill="#fa5064"/>
<rect x="1342" y="908" width="2" height="36" fill="#fa5064"/>
<rect x="1360" y="904" width="2" height="40" fill="#fa5064"/>
<rect x="1378" y="908" width="2" height="36" fill="#fa5064"/>
<rect x="1396" y="924" width="2" height="20" fill="#fa5064"/>
<rect x="1414" y="942" width="2" height="4" fill="#56c690"/>
<rect x="1432" y="942" width="2" height="20" fill="#56c690"/>
<rect x="1450" y="942" width="2" height="26" fill="#56c690"/>
<rect x="1468" y="942" width="2" height="24" fill="#56c690"/>
<rect x="1486" y="942" width="2" height="32" fill="#56c690"/>
<rect x="1504" y="942" width="2" height="42" fill="#56c690"/>
<rect x="1522" y="942" width="2" height="42" fill="#56c690"/>
<rect x="1540" y="942" width="2" height="55" fill="#56c690"/>
<rect x="1558" y="942" width="2" height="48" fill="#56c690"/>
<rect x="1576" y="942" width="2" height="48" fill="#56c690"/>
<rect x="1594" y="942" width="2" height="42" fill="#56c690"/>
<rect x="1612" y="942" width="2" height="38" fill="#56c690"/>
<rect x="1630" y="942" width="2" height="26" fill="#56c690"/>
<rect x="1648" y="942" width="2" height="14" fill="#56c690"/>
<rect x="1666" y="942" width="2" height="4" fill="#56c690"/>
<rect x="1684" y="938" width="2" height="6" fill="#fa5064"/>
<rect x="1702" y="922" width="2" height="22" fill="#fa5064"/>
<rect x="1720" y="910" width="2" height="34" fill="#fa5064"/>
<rect x="1738" y="914" width="2" height="30" fill="#fa5064"/>
<rect x="1756" y="922" width="2" height="22" fill="#fa5064"/>
<rect x="1774" y="928" width="2" height="16" fill="#fa5064"/>
<rect x="1792" y="936" width="2" height="8" fill="#fa5064"/>
<rect x="1810" y="934" width="2" height="10" fill="#fa5064"/>
<rect x="1828" y="936" width="2" height="8" fill="#fa5064"/>
<rect x="1846" y="938" width="2" height="6" fill="#fa5064"/>
<path d="M578 883h14M646 883h4M1540 883h10M1670 883h6M1358 813h24M488 903h6M306 947h4M358 947h8M380 947h18M696 851h4M930 851h4M1226 851h4M1478 851h6M830 823h30M1274 823h6M1302 823h10M1402 823h4M476 907h6M1094 907h4M712 843h6M904 843h4M1242 843h4M1442 843h6M662 873h4M998 873h6M1044 873h4M1526 873h4M1696 873h4M740 835h6M886 835h4M1256 835h4M1424 835h4M1280 821h6M1294 821h8M1312 821h8M1334 821h12M1398 821h4M224 969h8M512 893h12M620 893h6M1586 893h14M1626 893h10M542 889h14M608 889h6M632 889h6M1568 889h6M1644 889h10M734 837h6M890 837h6M1428 837h4M650 881h4M1188 881h4M1676 881h6M960 863h10M1500 863h4M1716 863h4M1778 863h6M1806 863h14M468 911h4M812 825h18M860 825h6M1270 825h4M1406 825h4M670 867h4M978 867h8M1510 867h8M1708 867h4M1790 867h8M482 905h6M472 909h4M1158 909h4M1004 875h6M1040 875h4M1062 875h4M1692 875h4M678 861h4M952 861h8M1720 861h10M1748 861h30M986 869h6M1052 869h4M1518 869h6M1704 869h4M564 885h14M592 885h8M642 885h4M1550 885h12M1662 885h8M934 853h4M1222 853h4M1484 853h4M266 961h6M654 879h4M1016 879h12M1068 879h4M1534 879h4M1682 879h6M970 865h8M1206 865h4M1504 865h6M1712 865h4M1784 865h6M1798 865h8M1820 865h26M690 855h4M938 855h4M1218 855h4M1488 855h4M752 831h6M878 831h4M1416 831h4M314 943h30M408 943h4M556 887h8M600 887h8M638 887h4M1562 887h6M1654 887h8M290 953h6M758 829h6M872 829h6M1264 829h4M414 939h4M992 871h6M1048 871h4M1056 871h4M1700 871h4M302 949h4M366 949h14M1010 877h6M1028 877h12M1688 877h4M708 845h4M908 845h8M1238 845h4M1448 845h12M1350 817h4M1388 817h6M764 827h48M866 827h6M1410 827h4M704 847h4M916 847h8M1234 847h4M1460 847h12M682 859h4M946 859h6M1494 859h4M1730 859h18M432 929h4M452 919h4M1112 919h4M1142 919h4M460 915h4M508 895h4M1600 895h8M1618 895h8M1286 819h8M1320 819h14M1346 819h4M1394 819h4M524 891h18M614 891h6M626 891h6M1574 891h12M1636 891h8M278 957h6M746 833h6M882 833h4M1420 833h4M310 945h4M344 945h14M398 945h10M686 857h4M942 857h4M718 841h8M900 841h4M1246 841h4M1436 841h6M240 965h14M424 933h4M504 897h4M1608 897h10M726 839h8M896 839h4M1250 839h4M1432 839h4M254 963h12M494 901h6M440 925h4M1124 925h6M220 971h4M456 917h4M1108 917h4M1146 917h4M700 849h4M924 849h6M1230 849h4M1472 849h6M464 913h4M1102 913h4M1152 913h4M212 975h4M448 921h4M1116 921h4M1136 921h6M1354 815h4M1382 815h6M272 959h6M296 951h6M500 899h4M284 955h6M444 923h4M1120 923h4M1130 923h6M204 979h4M232 967h8M196 983h4M216 973h4M208 977h4M200 981h4M436 927h4M192 985h4M428 931h4M420 935h4M677 862v2M1255 836v2M1067 876v2M191 986v2M1169 900v2M1167 902v2M1533 876v2M1085 894v2M1181 888v2M1263 830v2M1089 900v2M413 940v2M1061 872v2M1077 884v4M1193 878v2M1165 904v2M1261 832v2M1087 896v4M1217 856v2M1075 882v2M1539 880v2M1215 858v2M1091 902v2M1163 906v2M1205 866v2M1179 890v2M1177 892v2M1269 826v2M1499 860v2M419 936v2M1093 904v2M1079 888v2M695 852v2M1081 890v2M1201 870v2M1203 868v2M1175 894v2M1099 908v2M1493 856v2M661 874v2M1211 862v2M1173 896v2M1213 860v2M1107 914v2M1197 874v2M1199 872v2M1083 892v2M1101 910v2M1415 828v2M659 876v2M1151 914v2M1187 882v2M669 868v2M1531 874v2M1171 898v2M1073 880v2M1185 884v2M1525 870v2M667 870v2M1183 886v2M1157 910v2M1195 876v2M675 864v2" fill="none" stroke="#ffffff" stroke-width="2"/>
<path d="M656 889h6M1120 889h4M1208 889h6M764 853h6M988 853h8M1286 853h6M1532 853h6M722 867h6M1064 867h12M1258 867h4M1574 867h6M1802 867h44M450 941h4M734 863h6M1028 863h18M1266 863h4M1562 863h6M704 873h6M1084 873h4M1246 873h4M1592 873h8M1734 873h14M758 855h6M996 855h8M1282 855h4M1538 855h6M494 925h6M596 897h18M1142 897h12M1172 897h14M564 903h10M710 871h6M1080 871h4M1250 871h4M1586 871h6M1748 871h18M808 841h8M934 841h8M1322 841h8M1492 841h8M1374 829h14M1424 829h14M224 1005h6M332 965h8M844 835h8M902 835h14M1348 835h8M1460 835h14M686 879h6M1098 879h4M1232 879h6M1618 879h8M1698 879h14M790 845h8M952 845h8M1310 845h6M1508 845h6M398 953h14M1388 827h36M798 843h10M942 843h10M1316 843h6M1500 843h8M674 883h6M1106 883h6M1224 883h4M1640 883h50M740 861h6M1016 861h12M1270 861h4M1556 861h6M816 839h14M924 839h10M1330 839h8M1482 839h10M692 877h6M1094 877h4M1238 877h4M1608 877h10M1712 877h14M266 987h6M384 955h14M614 895h30M1136 895h6M1186 895h8M698 875h6M1088 875h6M1242 875h4M1600 875h8M1726 875h8M420 949h10M206 1013h6M852 833h50M1356 833h10M1446 833h14M716 869h6M1076 869h4M1254 869h4M1580 869h6M1766 869h36M530 913h6M680 881h6M1102 881h4M1228 881h4M1626 881h14M1690 881h8M488 927h6M746 859h6M1010 859h6M1274 859h4M1550 859h6M430 947h8M770 851h6M978 851h10M1292 851h6M1526 851h6M194 1017h6M830 837h14M916 837h8M1338 837h10M1474 837h8M668 885h6M1112 885h4M1220 885h4M644 893h6M1130 893h6M1194 893h8M728 865h6M1046 865h18M1262 865h4M1568 865h6M290 979h6M446 943h4M782 847h8M960 847h10M1304 847h6M1514 847h6M376 957h8M464 935h6M556 905h8M256 991h4M512 919h6M348 961h14M302 975h6M1366 831h8M1438 831h8M248 995h4M476 931h6M650 891h6M1124 891h6M1202 891h6M326 967h6M776 849h6M970 849h8M1298 849h6M1520 849h6M362 959h14M582 899h14M1154 899h18M200 1015h6M278 983h6M500 923h6M220 1007h4M548 907h8M662 887h6M1116 887h4M1214 887h6M340 963h8M752 857h6M1004 857h6M1278 857h4M1544 857h6M524 915h6M314 971h6M272 985h6M574 901h8M260 989h6M536 911h6M284 981h6M438 945h8M482 929h6M458 937h6M296 977h6M242 997h6M412 951h8M506 921h6M216 1009h4M454 939h4M518 917h6M308 973h6M320 969h6M542 909h6M238 999h4M230 1003h4M212 1011h4M190 1019h4M252 993h4M470 933h6M234 1001h4" fill="none" stroke="#f0f01e" stroke-width="2"/>
<path d="M428 1133h6M542 1133h10M1660 1133h4M1676 1133h10M1772 1133h4M1828 1133h10M1642 1141h4M688 1075h4M696 1075h4M748 1075h10M770 1075h4M814 1075h4M1260 1075h4M222 1179h6M456 1119h4M464 1119h6M568 1119h6M924 1119h6M1010 1147h10M1448 1147h4M1630 1147h4M1192 1099h4M1706 1099h4M258 1201h4M346 1201h4M1180 1105h4M1326 1105h4M798 1085h6M1244 1085h6M434 1131h6M486 1131h4M532 1131h10M892 1131h6M974 1131h10M1664 1131h12M1746 1131h4M1838 1131h8M1226 1091h6M790 1083h8M1250 1083h4M214 1181h8M246 1195h4M338 1195h4M912 1125h4M684 1073h4M700 1073h4M758 1073h12M298 1165h4M612 1165h4M1598 1165h4M1652 1137h4M1760 1137h6M1778 1137h4M292 1169h4M618 1169h6M1606 1169h4M1000 1149h10M1444 1149h4M676 1069h4M708 1069h4M826 1069h8M582 1115h6M356 1209h4M782 1081h8M806 1081h4M1330 1107h4M1208 1095h12M1714 1095h4M208 1183h6M230 1183h4M388 1183h20M302 1163h4M1558 1163h4M1594 1163h4M424 1135h4M1656 1135h4M1766 1135h6M1646 1139h6M1756 1139h4M1338 1111h4M284 1175h4M238 1189h4M1196 1097h12M1374 1097h4M1710 1097h4M1232 1089h6M1362 1089h4M1634 1145h4M1188 1101h4M1702 1101h4M450 1123h4M476 1123h4M562 1123h4M916 1123h4M1814 1123h4M254 1199h4M834 1067h24M444 1127h4M906 1127h6M440 1129h4M554 1129h4M898 1129h8M964 1129h10M1822 1129h4M1584 1171h4M1610 1171h4M1238 1087h6M1638 1143h4M1786 1143h4M778 1079h4M1052 1079h4M680 1071h4M704 1071h4M820 1071h6M310 1159h4M1414 1151h6M1440 1151h4M1220 1093h6M1368 1093h4M1718 1093h4M692 1077h4M774 1077h4M1052 1077h4M1184 1103h4M314 1157h4M470 1121h6M920 1121h4M1334 1109h4M306 1161h4M606 1161h4M1520 1161h4M368 1217h4M460 1117h4M574 1117h8M1512 1167h4M1602 1167h4M946 1153h4M1420 1153h8M1436 1153h4M1428 1155h8M250 1197h4M364 1215h4M1090 1239h4M1098 1233h4M1571 1172v2M1069 1160v14M423 1138v4M1137 1176v4M1531 1176v4M1033 1116v4M509 1118v2M1725 1098v4M1075 1196v6M1057 1082v12M553 1130v2M661 1088v4M667 1080v4M1533 1180v4M1077 1202v4M269 1194v2M1063 1120v14M819 1072v2M561 1124v2M1557 1164v4M1127 1204v4M1297 1102v4M939 1136v4M715 1068v4M1315 1112v4M1283 1080v2M1025 1132v4M1481 1144v4M1299 1106v4M1701 1102v4M383 1192v4M1285 1082v4M361 1210v2M805 1082v2M1161 1130v4M637 1130v6M1373 1094v2M1617 1164v2M1061 1108v12M933 1124v4M597 1138v4M1731 1108v4M1103 1230v2M1359 1088v4M1023 1136v4M1151 1144v4M1693 1116v4M1739 1122v2M1547 1186v4M1129 1198v6M415 1158v6M713 1066v2M591 1122v6M1465 1128v4M743 1080v2M635 1136v6M1305 1118v4M1455 1140v4M1135 1180v6M721 1078v2M529 1124v4M1143 1158v6M1791 1144v2M1291 1090v4M1121 1212v2M1545 1190v4M1259 1076v2M413 1164v6M1623 1156v2M955 1142v2M813 1076v2M1067 1148v12M1737 1118v4M611 1162v2M421 1142v6M507 1120v4M1037 1108v4M887 1118v4M1555 1168v4M1729 1104v4M1117 1216v2M1723 1094v4M1055 1074v2M1055 1080v2M1583 1172v2M515 1108v2M351 1202v2M1529 1170v6M1097 1234v2M499 1134v4M673 1072v4M719 1074v4M627 1158v4M1591 1166v2M1303 1114v4M353 1204v2M1485 1152v4M1087 1228v6M1507 1172v2M207 1180v2M605 1156v4M1477 1138v4M1559 1160v2M937 1132v4M1267 1070v2M1031 1120v4M1289 1088v2M1073 1186v10M1795 1142v4M931 1120v4M491 1132v2M1629 1148v2M1395 1128v4M1311 1118v2M961 1134v2M1317 1110v2M1691 1120v4M1167 1122v2M1499 1168v2M625 1162v6M1081 1212v6M885 1114v4M989 1136v2M1407 1142v2M1133 1186v6M1535 1184v6M1699 1106v4M1111 1222v2M659 1092v2M991 1138v2M1079 1206v6M1409 1144v2M865 1078v4M381 1196v4M1575 1176v2M1295 1098v4M1065 1134v14M1751 1132v2M1483 1148v4M1045 1092v4M1357 1092v2M1131 1192v6M329 1178v4M1149 1148v2M733 1090v2M651 1104v4M1173 1114v2M379 1200v4M1471 1126v4M1497 1166v2M633 1142v4M595 1132v6M1393 1124v4M891 1126v4M343 1196v2M1059 1094v14M513 1110v4M1043 1096v4M665 1084v2M1735 1114v4M643 1118v4M267 1196v2M419 1148v6M1125 1208v2M1071 1174v12M1543 1194v4M717 1072v2M481 1124v2M631 1146v6M1743 1126v2M863 1074v4M1809 1120v4M505 1124v4M1035 1112v4M1287 1086v2M1621 1158v4M725 1082v4M411 1170v4M1827 1130v2M193 1160v4M1475 1134v4M1293 1094v4M1115 1218v2M1165 1124v4M283 1176v2M1021 1140v4M1085 1222v6M1051 1080v4M1801 1132v4M1179 1106v2M1469 1124v2M671 1076v2M883 1110v4M929 1116v2M593 1128v4M1741 1124v2M273 1188v2M279 1180v2M741 1082v2M1325 1102v2M1453 1144v2M1459 1136v2M877 1098v4M519 1112v4M1627 1150v4M387 1184v4M1147 1150v4M959 1136v4M1273 1068v2M1345 1108v4M623 1170v2M333 1186v4M1527 1166v4M355 1206v2M1257 1078v2M587 1116v2M191 1158v2M335 1190v2M449 1124v2M1473 1130v4M1489 1158v2M949 1150v2M1041 1100v4M657 1094v4M1391 1120v4M327 1174v4M409 1174v6M601 1146v6M889 1122v4M1309 1120v2M1491 1160v2M501 1130v4M265 1198v4M653 1102v2M1541 1198v4M417 1154v4M1399 1134v2M1697 1110v4M987 1134v2M1581 1174v2M881 1106v4M1565 1166v2M629 1152v6M1511 1168v2M1385 1108v4M869 1084v4M1271 1066v2M517 1110v2M723 1080v2M645 1114v4M729 1088v4M1139 1170v6M1689 1124v4M1321 1106v2M1793 1146v2M1171 1116v4M861 1072v2M1525 1162v4M1799 1136v4M1487 1156v2M331 1182v4M731 1092v2M1083 1218v4M1549 1180v6M271 1190v4M1389 1116v4M1807 1124v2M493 1134v2M1397 1132v2M1563 1164v2M345 1198v2M1501 1170v2M495 1136v2M1519 1162v2M1503 1172v2M859 1068v4M875 1094v4M1383 1104v4M737 1086v2M1105 1228v2M1049 1084v4M1785 1140v2M1615 1166v4M1177 1108v4M377 1204v4M1411 1146v2M867 1082v2M1577 1178v2M947 1154v2M1367 1090v2M1351 1100v2M995 1142v2M1091 1240v2M195 1164v2M1413 1148v2M1479 1142v2M1753 1134v2M325 1170v4M197 1166v2M1755 1136v2M1783 1138v2M1539 1194v4M385 1188v4M559 1126v2M993 1140v2M1039 1104v4M873 1090v4M1275 1070v4M521 1116v2M483 1126v2M1361 1086v2M1277 1074v2M1553 1172v4M523 1118v2M1153 1142v2M485 1128v2M941 1140v4M1089 1234v4M337 1192v2M277 1182v4M745 1078v2M407 1180v2M425 1136v2M323 1166v4M1463 1132v2M599 1142v4M669 1078v2M1457 1138v2M1145 1154v4M879 1102v4M1387 1112v4M1047 1088v4M375 1208v4M1381 1100v4M963 1130v4M567 1120v2M1343 1112v2M589 1118v4M1349 1102v4M1745 1128v2M953 1144v4M871 1088v2M1159 1134v2M1119 1214v2M1313 1116v2M727 1086v2M603 1152v4M1523 1158v2M291 1170v2M1805 1126v4M675 1070v2M321 1162v4M1509 1170v2M1493 1162v2M1141 1164v6M1537 1190v4M497 1138v2M1819 1124v2M1567 1168v2M649 1108v4M735 1088v2M1821 1126v2M1403 1138v2M1029 1124v4M1319 1108v2M1569 1170v2M1175 1112v2M245 1192v2M945 1148v4M1265 1072v2M199 1168v4M811 1078v2M641 1122v4M999 1146v2M201 1172v2M1401 1136v2M1109 1224v2M1551 1176v4M1157 1136v4M1355 1094v4M1095 1236v2M237 1186v2M617 1166v2M243 1190v2M1379 1098v2M997 1144v2M1797 1140v2M943 1144v4M511 1114v4M275 1186v2M373 1212v4M1281 1078v2M1811 1118v2M663 1086v2M1813 1120v2M1123 1210v2M1027 1128v4M1589 1168v2M1505 1174v2M1619 1162v2M951 1148v2M655 1098v4M639 1126v4M281 1178v2M1019 1144v2M1279 1076v2M1461 1134v2M525 1120v2M289 1172v2M205 1176v4M527 1122v2M739 1084v2M1323 1104v2M319 1158v4M229 1180v2M235 1184v2M1687 1128v4M1347 1106v2M1625 1154v2M957 1140v2M503 1128v2M371 1218v2M1467 1126v2M1301 1110v4M1803 1130v2M1573 1174v2M1307 1122v2M297 1166v2M935 1128v4M1695 1114v2M203 1174v2M1777 1134v2M647 1112v2M1155 1140v2M1269 1068v2M1163 1128v2M1169 1120v2M1727 1102v2M1255 1080v2M1733 1112v2M455 1120v2M263 1202v2M1113 1220v2M1593 1164v2M1107 1226v2M531 1128v2M1579 1176v2M1495 1164v2M1517 1164v2M1353 1098v2M363 1212v2M985 1132v2M747 1076v2M1405 1140v2" fill="none" stroke="#f01ef0" stroke-width="2"/>
<rect x="1716" y="116" width="14" height="2" fill="#ffffff"/>
<rect x="1720" y="112" width="2" height="8" fill="#ffffff"/>
<rect x="276" y="716" width="14" height="2" fill="#fff"/>
<rect x="280" y="712" width="2" height="8" fill="#fff"/>
<rect x="1086" y="510" width="14" height="2" fill="#fff"/>
<rect x="1090" y="506" width="2" height="8" fill="#fff"/>
</g>
<text x="1731.5" y="110" font-size="24" fill="#ee5060" font-family='"Liberation Sans", "Noto Sans CJK SC", sans-serif' textLength="74.5" lengthAdjust="spacingAndGlyphs">1.3592</text>
<text x="1835.5" y="194" font-size="24" fill="#ffff00" font-family='"Liberation Sans", "Noto Sans CJK SC", sans-serif' textLength="73" lengthAdjust="spacingAndGlyphs">1.3400</text>
<text x="1101" y="534.5" font-size="24" fill="#52b988" font-family='"Liberation Sans", "Noto Sans CJK SC", sans-serif' textLength="74" lengthAdjust="spacingAndGlyphs">1.2708</text>
<text x="292" y="739" font-size="24" fill="#52b988" font-family='"Liberation Sans", "Noto Sans CJK SC", sans-serif' textLength="73" lengthAdjust="spacingAndGlyphs">1.2248</text>
<rect x="1910" y="146" width="138" height="36" fill="#faa838"/>
<rect x="1912" y="148" width="134" height="32" fill="#000000"/>
<text x="1917.5" y="171.5" font-size="24" fill="#faa838" font-family='"Liberation Sans", "Noto Sans CJK SC", sans-serif' textLength="72.5" lengthAdjust="spacingAndGlyphs">1.3523</text>
<rect x="2030" y="130" width="16" height="16" fill="#0a0a0a"/>
<path d="M2038 130 L2046 138 L2030 138 Z M2038 138 L2046 146 L2030 146 Z" fill="#faa838"/>
<rect x="1910" y="518" width="138" height="2" fill="#1a1a1a"/>
<rect x="1912" y="520" width="134" height="32" fill="#000000"/>
<text x="1916" y="544" font-size="24" fill="#f5901e" font-family='"Liberation Sans", "Noto Sans CJK SC", sans-serif' textLength="74" lengthAdjust="spacingAndGlyphs">1.2689</text>
<text x="184" y="28" font-size="24" fill="#f0f0f0" font-family='"Liberation Sans", "Noto Sans CJK SC", sans-serif' textLength="95" lengthAdjust="spacingAndGlyphs">英镑美元</text>
<text x="279" y="28" font-size="24" fill="#ff6a00" font-family='"Liberation Sans", "Noto Sans CJK SC", sans-serif' textLength="96" lengthAdjust="spacingAndGlyphs">【日线】</text>
<g fill="none" stroke="#ff7800" stroke-width="1.8"><circle cx="386.5" cy="23" r="8"/><path d="M378.5 23H394.5M386.5 15V31"/></g>
<g shape-rendering="crispEdges">
<rect x="412" y="4" width="24" height="26" fill="#a0a0a0"/>
<rect x="412" y="2" width="20" height="26" fill="#00008b"/>
<rect x="410" y="4" width="24" height="22" fill="#00008b"/>
<rect x="412" y="4" width="20" height="22" fill="#ffffff"/>
<rect x="412" y="16" width="2" height="2" fill="#ff0000"/>
<rect x="414" y="14" width="2" height="2" fill="#ff0000"/>
<rect x="416" y="12" width="2" height="2" fill="#ff0000"/>
<rect x="418" y="8" width="2" height="2" fill="#ff0000"/>
<rect x="418" y="10" width="2" height="2" fill="#ff0000"/>
<rect x="420" y="10" width="2" height="2" fill="#ff0000"/>
<rect x="422" y="12" width="2" height="2" fill="#ff0000"/>
<rect x="424" y="14" width="2" height="2" fill="#ff0000"/>
<rect x="426" y="12" width="2" height="2" fill="#ff0000"/>
<rect x="428" y="10" width="2" height="2" fill="#ff0000"/>
<rect x="430" y="10" width="2" height="2" fill="#ff0000"/>
<rect x="412" y="22" width="2" height="2" fill="#0000ff"/>
<rect x="414" y="20" width="2" height="2" fill="#0000ff"/>
<rect x="416" y="18" width="2" height="2" fill="#0000ff"/>
<rect x="418" y="14" width="2" height="2" fill="#0000ff"/>
<rect x="418" y="16" width="2" height="2" fill="#0000ff"/>
<rect x="420" y="16" width="2" height="2" fill="#0000ff"/>
<rect x="422" y="18" width="2" height="2" fill="#0000ff"/>
<rect x="424" y="20" width="2" height="2" fill="#0000ff"/>
<rect x="426" y="18" width="2" height="2" fill="#0000ff"/>
<rect x="428" y="16" width="2" height="2" fill="#0000ff"/>
<rect x="430" y="16" width="2" height="2" fill="#0000ff"/>
</g>
<text x="441.5" y="28" font-size="24" fill="#e4e4e4" font-family='"Liberation Sans", "Noto Sans CJK SC", sans-serif' textLength="262" lengthAdjust="spacingAndGlyphs">BOLL(26,2) MID:1.3379</text>
<text x="721.5" y="28" font-size="24" fill="#d2d21e" font-family='"Liberation Sans", "Noto Sans CJK SC", sans-serif' textLength="156.5" lengthAdjust="spacingAndGlyphs">UPPER:1.3602</text>
<text x="896" y="28" font-size="24" fill="#dc1edc" font-family='"Liberation Sans", "Noto Sans CJK SC", sans-serif' textLength="164" lengthAdjust="spacingAndGlyphs">LOWER:1.3155</text>
<text x="185.5" y="796.5" font-size="24" fill="#e4e4e4" font-family='"Liberation Sans", "Noto Sans CJK SC", sans-serif' textLength="309" lengthAdjust="spacingAndGlyphs">MACD(26,12,9) DIFF:0.0079</text>
<text x="514" y="796.5" font-size="24" fill="#d2d21e" font-family='"Liberation Sans", "Noto Sans CJK SC", sans-serif' textLength="128" lengthAdjust="spacingAndGlyphs">DEA:0.0078</text>
<text x="660" y="796.5" font-size="24" fill="#dc1edc" font-family='"Liberation Sans", "Noto Sans CJK SC", sans-serif' textLength="153.5" lengthAdjust="spacingAndGlyphs">MACD:0.0002</text>
<text x="185.5" y="1049.5" font-size="24" fill="#e4e4e4" font-family='"Liberation Sans", "Noto Sans CJK SC", sans-serif' textLength="303" lengthAdjust="spacingAndGlyphs">RSI(14,14,14) RSI1:60.7225</text>
<text x="508" y="1049.5" font-size="24" fill="#d2d21e" font-family='"Liberation Sans", "Noto Sans CJK SC", sans-serif' textLength="145" lengthAdjust="spacingAndGlyphs">RSI2:60.7225</text>
<text x="671.5" y="1049.5" font-size="24" fill="#dc1edc" font-family='"Liberation Sans", "Noto Sans CJK SC", sans-serif' textLength="145" lengthAdjust="spacingAndGlyphs">RSI3:60.7225</text>
<g shape-rendering="crispEdges">
<rect x="1782" y="0" width="128" height="32" fill="#060606"/>
<rect x="1784" y="2" width="28" height="28" fill="#b4b4b4"/>
<rect x="1786" y="4" width="24" height="24" fill="#050505"/>
<rect x="1816" y="2" width="28" height="28" fill="#b4b4b4"/>
<rect x="1818" y="4" width="24" height="24" fill="#050505"/>
<rect x="1848" y="2" width="28" height="28" fill="#b4b4b4"/>
<rect x="1850" y="4" width="24" height="24" fill="#050505"/>
<rect x="1880" y="2" width="28" height="28" fill="#b4b4b4"/>
<rect x="1882" y="4" width="24" height="24" fill="#050505"/>
<rect x="1796" y="6" width="4" height="6" fill="#a8a8a8"/>
<rect x="1796" y="20" width="4" height="6" fill="#a8a8a8"/>
<rect x="1796" y="14" width="4" height="4" fill="#a8a8a8"/>
<rect x="1788" y="14" width="6" height="4" fill="#a8a8a8"/>
<rect x="1802" y="14" width="6" height="4" fill="#a8a8a8"/>
<rect x="1822" y="6" width="2" height="20" fill="#a8a8a8"/>
<rect x="1820" y="8" width="6" height="2" fill="#a8a8a8"/>
<rect x="1820" y="22" width="20" height="2" fill="#a8a8a8"/>
<rect x="1836" y="20" width="2" height="6" fill="#a8a8a8"/>
<rect x="1854" y="6" width="2" height="20" fill="#a8a8a8"/>
<rect x="1852" y="8" width="6" height="2" fill="#a8a8a8"/>
<rect x="1852" y="22" width="20" height="2" fill="#a8a8a8"/>
<rect x="1868" y="20" width="2" height="6" fill="#a8a8a8"/>
<rect x="1828" y="8" width="2" height="12" fill="#a8a8a8"/>
</g>
<path d="M1830 13.5 L1836 8.5 V18.5 Z" fill="#a8a8a8"/>
<path d="M1860 8 L1870 15 L1860 22 Z" fill="#a8a8a8"/>
<g shape-rendering="crispEdges"><rect x="1885" y="7" width="6" height="18" fill="none" stroke="#a8a8a8" stroke-width="2"/>
<rect x="1888" y="14" width="12" height="2" fill="#a8a8a8"/>
</g>
<path d="M1896 10 L1902 15 L1896 20 Z" fill="#a8a8a8"/>
<g shape-rendering="crispEdges">
<rect x="54" y="1028" width="8" height="16" fill="#000"/>
<rect x="52" y="1030" width="12" height="12" fill="#000"/>
<rect x="50" y="1032" width="16" height="8" fill="#000"/>
<rect x="54" y="1030" width="8" height="12" fill="#fff"/>
<rect x="52" y="1032" width="12" height="8" fill="#fff"/>
<rect x="54" y="1034" width="8" height="4" fill="#ff0000"/>
<rect x="56" y="1032" width="4" height="8" fill="#ff0000"/>
<rect x="56" y="1022" width="2" height="4" fill="#ff0000"/>
<rect x="56" y="1046" width="2" height="4" fill="#ff0000"/>
<rect x="44" y="1034" width="4" height="2" fill="#ff0000"/>
<rect x="68" y="1034" width="4" height="2" fill="#ff0000"/>
<rect x="46" y="1024" width="2" height="2" fill="#ff0000"/>
<rect x="48" y="1026" width="2" height="2" fill="#ff0000"/>
<rect x="68" y="1024" width="2" height="2" fill="#ff0000"/>
<rect x="66" y="1026" width="2" height="2" fill="#ff0000"/>
<rect x="48" y="1044" width="2" height="2" fill="#ff0000"/>
<rect x="46" y="1046" width="2" height="2" fill="#ff0000"/>
<rect x="66" y="1044" width="2" height="2" fill="#ff0000"/>
<rect x="68" y="1046" width="2" height="2" fill="#ff0000"/>
</g>
<text x="284.5" y="1267.5" font-size="24" fill="#ffffff" font-family='"Liberation Sans", "Noto Sans CJK SC", sans-serif' textLength="88.5" lengthAdjust="spacingAndGlyphs" stroke="#ffffff" stroke-width="0.9">2025/02</text>
<text x="644" y="1267.5" font-size="24" fill="#ffffff" font-family='"Liberation Sans", "Noto Sans CJK SC", sans-serif' textLength="89.5" lengthAdjust="spacingAndGlyphs" stroke="#ffffff" stroke-width="0.9">2025/03</text>
<text x="1023" y="1267.5" font-size="24" fill="#ffffff" font-family='"Liberation Sans", "Noto Sans CJK SC", sans-serif' textLength="89" lengthAdjust="spacingAndGlyphs" stroke="#ffffff" stroke-width="0.9">2025/04</text>
<text x="1418" y="1267.5" font-size="24" fill="#ffffff" font-family='"Liberation Sans", "Noto Sans CJK SC", sans-serif' textLength="89" lengthAdjust="spacingAndGlyphs" stroke="#ffffff" stroke-width="0.9">2025/05</text>
<text x="1814.5" y="1267.5" font-size="24" fill="#ffffff" font-family='"Liberation Sans", "Noto Sans CJK SC", sans-serif' textLength="88.5" lengthAdjust="spacingAndGlyphs" stroke="#ffffff" stroke-width="0.9">2025/06</text>
<rect x="1459.5" y="1246" width="3" height="26" fill="#1a1a1a"/>
<rect x="1462" y="1244" width="218" height="31" fill="#000000"/>
<text x="1465.5" y="1268" font-size="23" fill="#f5901e" font-family='"Liberation Sans", "Noto Sans CJK SC", sans-serif' textLength="210.5" lengthAdjust="spacingAndGlyphs">2025/05/06 星期二</text>
<text x="66.5" y="1274" font-size="25" fill="#ff6a00" font-family='"Liberation Sans", "Noto Sans CJK SC", sans-serif' textLength="52.5" lengthAdjust="spacingAndGlyphs" font-weight="bold">日线</text>
<path d="M130 1272 L138.8 1255 L147.6 1272 Z" fill="#ff6a00"/>
<text x="1922" y="1289" font-size="29" fill="#dcdcdc" font-family='"Liberation Sans", sans-serif' textLength="99" lengthAdjust="spacing">FX678</text>
<rect x="40" y="1284" width="78" height="30" fill="#060606"/>
<text x="55.4" y="1307" font-size="24" fill="#ffffff" font-family='"Liberation Mono", "Noto Serif CJK SC", monospace' textLength="47.2" lengthAdjust="spacingAndGlyphs" stroke="#ffffff" stroke-width="0.5">指标</text>
<rect x="120" y="1284" width="78" height="30" fill="#060606"/>
<text x="135.4" y="1307" font-size="24" fill="#ffffff" font-family='"Liberation Mono", "Noto Serif CJK SC", monospace' textLength="47.2" lengthAdjust="spacingAndGlyphs" stroke="#ffffff" stroke-width="0.5">模板</text>
<rect x="200" y="1282" width="114" height="30" fill="#ff6a00"/>
<text x="215.7" y="1307" font-size="24" fill="#ffffff" font-family='"Liberation Mono", "Noto Serif CJK SC", monospace' textLength="82.6" lengthAdjust="spacingAndGlyphs" stroke="#ffffff" stroke-width="0.5">VIP指标</text>
<rect x="316" y="1284" width="150" height="30" fill="#060606"/>
<text x="332" y="1306.5" font-size="23" fill="#b4b4b4" font-family='"Liberation Mono", "Noto Serif CJK SC", monospace' textLength="118" lengthAdjust="spacingAndGlyphs">BARUPDN_UD</text>
<rect x="468" y="1284" width="113" height="30" fill="#060606"/>
<text x="483.2" y="1306.5" font-size="23" fill="#b4b4b4" font-family='"Liberation Mono", "Noto Serif CJK SC", monospace' textLength="82.6" lengthAdjust="spacingAndGlyphs">BIAS_UD</text>
<rect x="583" y="1284" width="114" height="30" fill="#060606"/>
<text x="598.7" y="1306.5" font-size="23" fill="#b4b4b4" font-family='"Liberation Mono", "Noto Serif CJK SC", monospace' textLength="82.6" lengthAdjust="spacingAndGlyphs">BOLL_UD</text>
<rect x="699" y="1284" width="103" height="30" fill="#060606"/>
<text x="715.1" y="1306.5" font-size="23" fill="#b4b4b4" font-family='"Liberation Mono", "Noto Serif CJK SC", monospace' textLength="70.8" lengthAdjust="spacingAndGlyphs">CCI_UD</text>
<rect x="804" y="1284" width="102" height="30" fill="#060606"/>
<text x="819.6" y="1306.5" font-size="23" fill="#b4b4b4" font-family='"Liberation Mono", "Noto Serif CJK SC", monospace' textLength="70.8" lengthAdjust="spacingAndGlyphs">DMI_UD</text>
<rect x="908" y="1284" width="138" height="30" fill="#060606"/>
<text x="923.9" y="1306.5" font-size="23" fill="#b4b4b4" font-family='"Liberation Mono", "Noto Serif CJK SC", monospace' textLength="106.2" lengthAdjust="spacingAndGlyphs">INSIDE_UD</text>
<rect x="1048" y="1284" width="90" height="30" fill="#060606"/>
<text x="1063.5" y="1306.5" font-size="23" fill="#b4b4b4" font-family='"Liberation Mono", "Noto Serif CJK SC", monospace' textLength="59" lengthAdjust="spacingAndGlyphs">KD_UD</text>
<rect x="1140" y="1284" width="102" height="30" fill="#060606"/>
<text x="1155.6" y="1306.5" font-size="23" fill="#b4b4b4" font-family='"Liberation Mono", "Noto Serif CJK SC", monospace' textLength="70.8" lengthAdjust="spacingAndGlyphs">KDJ_UD</text>
<rect x="1244" y="1284" width="90" height="30" fill="#060606"/>
<text x="1259.5" y="1306.5" font-size="23" fill="#b4b4b4" font-family='"Liberation Mono", "Noto Serif CJK SC", monospace' textLength="59" lengthAdjust="spacingAndGlyphs">MA_UD</text>
<rect x="1336" y="1284" width="114" height="30" fill="#060606"/>
<text x="1351.7" y="1306.5" font-size="23" fill="#b4b4b4" font-family='"Liberation Mono", "Noto Serif CJK SC", monospace' textLength="82.6" lengthAdjust="spacingAndGlyphs">MACD_UD</text>
<rect x="1452" y="1284" width="102" height="30" fill="#060606"/>
<text x="1467.6" y="1306.5" font-size="23" fill="#b4b4b4" font-family='"Liberation Mono", "Noto Serif CJK SC", monospace' textLength="70.8" lengthAdjust="spacingAndGlyphs">MTM_UD</text>
<rect x="1556" y="1284" width="150" height="30" fill="#060606"/>
<text x="1572" y="1306.5" font-size="23" fill="#b4b4b4" font-family='"Liberation Mono", "Noto Serif CJK SC", monospace' textLength="118" lengthAdjust="spacingAndGlyphs">OUTSIDE_UD</text>
<rect x="1708" y="1284" width="53" height="30" fill="#060606"/>
<text x="1722.7" y="1306.5" font-size="23" fill="#b4b4b4" font-family='"Liberation Mono", "Noto Serif CJK SC", monospace' textLength="23.6" lengthAdjust="spacingAndGlyphs">&gt;&gt;</text>
</svg></body></html>
